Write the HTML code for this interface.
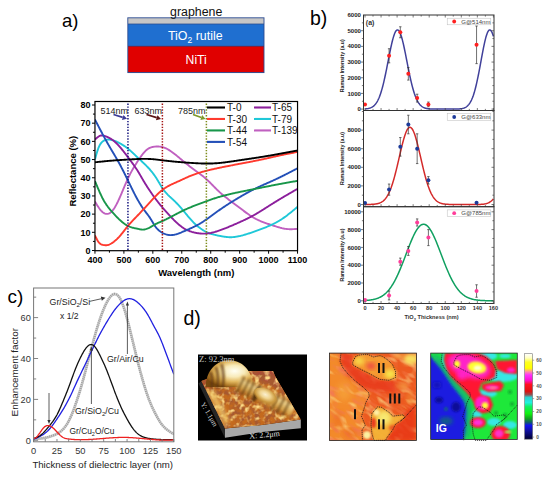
<!DOCTYPE html>
<html><head><meta charset="utf-8"><style>
html,body{margin:0;padding:0;background:#fff;width:550px;height:478px;overflow:hidden}
svg{display:block}
text{font-family:"Liberation Sans", sans-serif}
text.serif{font-family:"Liberation Serif",serif}
</style></head><body>
<svg width="550" height="478" viewBox="0 0 550 478" font-family='"Liberation Sans", sans-serif'>
<text x="62" y="27.3" font-size="18.5" fill="#000">a)</text>
<text x="310" y="25" font-size="19.5" fill="#000">b)</text>
<text x="7.5" y="303.4" font-size="19" fill="#000">c)</text>
<text x="183.5" y="325" font-size="19.5" fill="#000">d)</text>
<rect x="128" y="18" width="136" height="54.5" fill="#1f6fd0"/>
<rect x="128" y="18" width="136" height="6" fill="#c6c6c6"/>
<rect x="128" y="46.3" width="136" height="26.2" fill="#e00000"/>
<rect x="127.8" y="17.8" width="136.2" height="54.8" fill="none" stroke="#2a4a90" stroke-width="0.9"/>
<line x1="128" y1="24" x2="264" y2="24" stroke="#2b4f8f" stroke-width="0.8"/>
<line x1="128" y1="46.3" x2="264" y2="46.3" stroke="#5a2040" stroke-width="0.6"/>
<text x="170" y="16.1" font-size="12" textLength="52.3" lengthAdjust="spacingAndGlyphs" fill="#111">graphene</text>
<text x="168" y="39.9" font-size="12.4" fill="#fff">TiO<tspan font-size="8.5" dy="2.8">2</tspan><tspan dy="-2.8"> rutile</tspan></text>
<text x="185.6" y="64.2" font-size="12.2" fill="#fff">NiTi</text>
<defs><clipPath id="ca"><rect x="94.96" y="101.5" width="202.57999999999998" height="149.2"/></clipPath></defs>
<g clip-path="url(#ca)" fill="none" stroke-width="1.9" stroke-linejoin="round">
<polyline points="94.96,201.57 95.64,202.71 96.32,203.84 96.99,204.95 97.67,206.03 98.35,207.06 99.03,208.05 99.70,208.98 100.38,209.84 101.06,210.62 101.74,211.32 102.41,211.94 103.09,212.48 103.77,212.93 104.45,213.31 105.12,213.59 105.80,213.79 106.48,213.90 107.16,213.92 107.83,213.85 108.51,213.68 109.19,213.41 109.87,213.05 110.54,212.58 111.22,212.00 111.90,211.32 112.58,210.54 113.25,209.67 113.93,208.72 114.61,207.67 115.29,206.55 115.96,205.36 116.64,204.10 117.32,202.78 118.00,201.40 118.67,199.96 119.35,198.48 120.03,196.96 120.71,195.41 121.38,193.82 122.06,192.22 122.74,190.60 123.42,188.98 124.09,187.35 124.77,185.74 125.45,184.14 126.13,182.56 126.80,181.01 127.48,179.50 128.16,178.03 128.84,176.61 129.51,175.24 130.19,173.90 130.87,172.61 131.55,171.36 132.22,170.14 132.90,168.95 133.58,167.79 134.26,166.66 134.93,165.55 135.61,164.46 136.29,163.40 136.97,162.35 137.64,161.31 138.32,160.29 139.00,159.28 139.68,158.28 140.35,157.30 141.03,156.34 141.71,155.42 142.39,154.52 143.06,153.66 143.74,152.84 144.42,152.07 145.10,151.34 145.77,150.67 146.45,150.05 147.13,149.50 147.81,149.00 148.48,148.57 149.16,148.19 149.84,147.87 150.52,147.59 151.19,147.35 151.87,147.16 152.55,146.99 153.23,146.86 153.90,146.76 154.58,146.68 155.26,146.61 155.94,146.56 156.61,146.53 157.29,146.52 157.97,146.53 158.65,146.56 159.32,146.60 160.00,146.68 160.68,146.77 161.36,146.89 162.03,147.03 162.71,147.20 163.39,147.39 164.07,147.61 164.75,147.86 165.42,148.14 166.10,148.44 166.78,148.77 167.46,149.13 168.13,149.51 168.81,149.90 169.49,150.32 170.17,150.76 170.84,151.22 171.52,151.69 172.20,152.17 172.88,152.67 173.55,153.18 174.23,153.71 174.91,154.24 175.59,154.78 176.26,155.33 176.94,155.88 177.62,156.44 178.30,157.00 178.97,157.57 179.65,158.13 180.33,158.70 181.01,159.26 181.68,159.83 182.36,160.40 183.04,160.96 183.72,161.52 184.39,162.08 185.07,162.64 185.75,163.19 186.43,163.74 187.10,164.29 187.78,164.83 188.46,165.36 189.14,165.89 189.81,166.42 190.49,166.93 191.17,167.45 191.85,167.95 192.52,168.45 193.20,168.95 193.88,169.44 194.56,169.94 195.23,170.43 195.91,170.92 196.59,171.41 197.27,171.91 197.94,172.40 198.62,172.90 199.30,173.41 199.98,173.92 200.65,174.43 201.33,174.95 202.01,175.48 202.69,176.02 203.36,176.57 204.04,177.13 204.72,177.70 205.40,178.28 206.07,178.87 206.75,179.48 207.43,180.10 208.11,180.74 208.78,181.38 209.46,182.05 210.14,182.72 210.82,183.39 211.49,184.08 212.17,184.77 212.85,185.46 213.53,186.15 214.20,186.84 214.88,187.53 215.56,188.21 216.24,188.89 216.91,189.56 217.59,190.22 218.27,190.87 218.95,191.50 219.62,192.13 220.30,192.74 220.98,193.34 221.66,193.93 222.33,194.51 223.01,195.08 223.69,195.65 224.37,196.20 225.04,196.75 225.72,197.29 226.40,197.82 227.08,198.35 227.75,198.87 228.43,199.39 229.11,199.90 229.79,200.41 230.47,200.92 231.14,201.42 231.82,201.93 232.50,202.43 233.18,202.93 233.85,203.44 234.53,203.94 235.21,204.44 235.89,204.95 236.56,205.46 237.24,205.97 237.92,206.48 238.60,207.00 239.27,207.52 239.95,208.04 240.63,208.55 241.31,209.07 241.98,209.59 242.66,210.10 243.34,210.61 244.02,211.12 244.69,211.63 245.37,212.13 246.05,212.62 246.73,213.11 247.40,213.60 248.08,214.08 248.76,214.55 249.44,215.01 250.11,215.47 250.79,215.91 251.47,216.35 252.15,216.78 252.82,217.19 253.50,217.60 254.18,217.99 254.86,218.37 255.53,218.74 256.21,219.09 256.89,219.44 257.57,219.77 258.24,220.09 258.92,220.40 259.60,220.71 260.28,221.00 260.95,221.29 261.63,221.57 262.31,221.84 262.99,222.10 263.66,222.36 264.34,222.61 265.02,222.85 265.70,223.10 266.37,223.33 267.05,223.56 267.73,223.79 268.41,224.02 269.08,224.24 269.76,224.47 270.44,224.69 271.12,224.90 271.79,225.12 272.47,225.34 273.15,225.56 273.83,225.78 274.50,226.00 275.18,226.22 275.86,226.43 276.54,226.65 277.21,226.85 277.89,227.06 278.57,227.26 279.25,227.45 279.92,227.64 280.60,227.82 281.28,227.99 281.96,228.16 282.63,228.31 283.31,228.45 283.99,228.59 284.67,228.71 285.34,228.82 286.02,228.91 286.70,228.99 287.38,229.06 288.05,229.11 288.73,229.15 289.41,229.18 290.09,229.19 290.76,229.20 291.44,229.19 292.12,229.18 292.80,229.15 293.47,229.12 294.15,229.09 294.83,229.05 295.51,229.00 296.18,228.96 296.86,228.91 297.54,228.86" stroke="#c060c0"/>
<polyline points="94.96,159.56 95.64,157.03 96.32,154.56 96.99,152.23 97.67,150.09 98.35,148.22 99.03,146.61 99.70,145.24 100.38,144.09 101.06,143.13 101.74,142.33 102.41,141.67 103.09,141.13 103.77,140.68 104.45,140.32 105.12,140.04 105.80,139.83 106.48,139.69 107.16,139.60 107.83,139.56 108.51,139.56 109.19,139.59 109.87,139.65 110.54,139.74 111.22,139.87 111.90,140.02 112.58,140.19 113.25,140.39 113.93,140.62 114.61,140.86 115.29,141.13 115.96,141.41 116.64,141.71 117.32,142.03 118.00,142.36 118.67,142.70 119.35,143.05 120.03,143.42 120.71,143.79 121.38,144.18 122.06,144.57 122.74,144.99 123.42,145.41 124.09,145.85 124.77,146.30 125.45,146.77 126.13,147.25 126.80,147.76 127.48,148.28 128.16,148.81 128.84,149.37 129.51,149.94 130.19,150.53 130.87,151.13 131.55,151.74 132.22,152.37 132.90,153.00 133.58,153.63 134.26,154.28 134.93,154.92 135.61,155.57 136.29,156.22 136.97,156.87 137.64,157.51 138.32,158.15 139.00,158.78 139.68,159.41 140.35,160.04 141.03,160.67 141.71,161.30 142.39,161.93 143.06,162.57 143.74,163.21 144.42,163.86 145.10,164.51 145.77,165.18 146.45,165.86 147.13,166.55 147.81,167.26 148.48,167.99 149.16,168.73 149.84,169.50 150.52,170.28 151.19,171.09 151.87,171.92 152.55,172.78 153.23,173.67 153.90,174.58 154.58,175.53 155.26,176.50 155.94,177.51 156.61,178.56 157.29,179.64 157.97,180.76 158.65,181.90 159.32,183.06 160.00,184.22 160.68,185.37 161.36,186.49 162.03,187.57 162.71,188.60 163.39,189.56 164.07,190.48 164.75,191.34 165.42,192.16 166.10,192.93 166.78,193.67 167.46,194.38 168.13,195.07 168.81,195.72 169.49,196.37 170.17,196.99 170.84,197.61 171.52,198.23 172.20,198.84 172.88,199.46 173.55,200.09 174.23,200.74 174.91,201.40 175.59,202.07 176.26,202.76 176.94,203.47 177.62,204.18 178.30,204.91 178.97,205.66 179.65,206.41 180.33,207.17 181.01,207.95 181.68,208.73 182.36,209.52 183.04,210.32 183.72,211.12 184.39,211.94 185.07,212.75 185.75,213.57 186.43,214.39 187.10,215.20 187.78,216.02 188.46,216.82 189.14,217.62 189.81,218.41 190.49,219.19 191.17,219.96 191.85,220.71 192.52,221.44 193.20,222.15 193.88,222.84 194.56,223.51 195.23,224.15 195.91,224.78 196.59,225.38 197.27,225.97 197.94,226.53 198.62,227.07 199.30,227.60 199.98,228.10 200.65,228.59 201.33,229.06 202.01,229.51 202.69,229.94 203.36,230.35 204.04,230.75 204.72,231.13 205.40,231.49 206.07,231.83 206.75,232.16 207.43,232.47 208.11,232.76 208.78,233.03 209.46,233.29 210.14,233.53 210.82,233.76 211.49,233.97 212.17,234.17 212.85,234.36 213.53,234.54 214.20,234.70 214.88,234.86 215.56,235.02 216.24,235.17 216.91,235.31 217.59,235.45 218.27,235.59 218.95,235.73 219.62,235.87 220.30,236.00 220.98,236.13 221.66,236.26 222.33,236.38 223.01,236.50 223.69,236.61 224.37,236.72 225.04,236.81 225.72,236.90 226.40,236.98 227.08,237.05 227.75,237.11 228.43,237.16 229.11,237.20 229.79,237.22 230.47,237.23 231.14,237.22 231.82,237.20 232.50,237.16 233.18,237.11 233.85,237.05 234.53,236.98 235.21,236.89 235.89,236.79 236.56,236.68 237.24,236.56 237.92,236.43 238.60,236.29 239.27,236.14 239.95,235.99 240.63,235.82 241.31,235.65 241.98,235.48 242.66,235.29 243.34,235.11 244.02,234.91 244.69,234.72 245.37,234.52 246.05,234.31 246.73,234.11 247.40,233.90 248.08,233.69 248.76,233.48 249.44,233.26 250.11,233.04 250.79,232.82 251.47,232.60 252.15,232.37 252.82,232.14 253.50,231.91 254.18,231.67 254.86,231.44 255.53,231.20 256.21,230.96 256.89,230.71 257.57,230.46 258.24,230.21 258.92,229.96 259.60,229.71 260.28,229.45 260.95,229.19 261.63,228.93 262.31,228.67 262.99,228.40 263.66,228.14 264.34,227.86 265.02,227.59 265.70,227.32 266.37,227.04 267.05,226.75 267.73,226.47 268.41,226.18 269.08,225.88 269.76,225.58 270.44,225.28 271.12,224.97 271.79,224.65 272.47,224.33 273.15,224.00 273.83,223.67 274.50,223.32 275.18,222.97 275.86,222.62 276.54,222.25 277.21,221.88 277.89,221.50 278.57,221.11 279.25,220.71 279.92,220.30 280.60,219.88 281.28,219.45 281.96,219.01 282.63,218.55 283.31,218.09 283.99,217.62 284.67,217.14 285.34,216.65 286.02,216.15 286.70,215.65 287.38,215.13 288.05,214.61 288.73,214.09 289.41,213.55 290.09,213.01 290.76,212.47 291.44,211.92 292.12,211.37 292.80,210.81 293.47,210.25 294.15,209.69 294.83,209.12 295.51,208.56 296.18,207.99 296.86,207.42 297.54,206.85" stroke="#1fc8d8"/>
<polyline points="94.96,139.55 95.64,138.93 96.32,138.32 96.99,137.73 97.67,137.18 98.35,136.69 99.03,136.27 99.70,135.92 100.38,135.67 101.06,135.51 101.74,135.44 102.41,135.45 103.09,135.53 103.77,135.67 104.45,135.86 105.12,136.08 105.80,136.33 106.48,136.60 107.16,136.89 107.83,137.20 108.51,137.53 109.19,137.89 109.87,138.26 110.54,138.66 111.22,139.09 111.90,139.54 112.58,140.01 113.25,140.51 113.93,141.04 114.61,141.60 115.29,142.19 115.96,142.80 116.64,143.45 117.32,144.12 118.00,144.83 118.67,145.56 119.35,146.31 120.03,147.09 120.71,147.89 121.38,148.70 122.06,149.53 122.74,150.38 123.42,151.24 124.09,152.11 124.77,153.00 125.45,153.88 126.13,154.78 126.80,155.67 127.48,156.57 128.16,157.47 128.84,158.37 129.51,159.27 130.19,160.17 130.87,161.07 131.55,161.99 132.22,162.91 132.90,163.84 133.58,164.79 134.26,165.75 134.93,166.73 135.61,167.73 136.29,168.75 136.97,169.79 137.64,170.86 138.32,171.96 139.00,173.08 139.68,174.22 140.35,175.38 141.03,176.55 141.71,177.72 142.39,178.88 143.06,180.04 143.74,181.18 144.42,182.31 145.10,183.43 145.77,184.53 146.45,185.61 147.13,186.68 147.81,187.74 148.48,188.79 149.16,189.82 149.84,190.83 150.52,191.84 151.19,192.83 151.87,193.80 152.55,194.77 153.23,195.72 153.90,196.66 154.58,197.58 155.26,198.49 155.94,199.39 156.61,200.28 157.29,201.16 157.97,202.02 158.65,202.88 159.32,203.72 160.00,204.55 160.68,205.38 161.36,206.19 162.03,207.00 162.71,207.80 163.39,208.59 164.07,209.37 164.75,210.14 165.42,210.91 166.10,211.67 166.78,212.42 167.46,213.17 168.13,213.91 168.81,214.65 169.49,215.38 170.17,216.11 170.84,216.83 171.52,217.54 172.20,218.25 172.88,218.95 173.55,219.64 174.23,220.32 174.91,220.99 175.59,221.64 176.26,222.29 176.94,222.92 177.62,223.53 178.30,224.13 178.97,224.71 179.65,225.28 180.33,225.83 181.01,226.35 181.68,226.86 182.36,227.35 183.04,227.81 183.72,228.26 184.39,228.67 185.07,229.07 185.75,229.44 186.43,229.79 187.10,230.12 187.78,230.42 188.46,230.71 189.14,230.98 189.81,231.24 190.49,231.47 191.17,231.69 191.85,231.90 192.52,232.09 193.20,232.27 193.88,232.44 194.56,232.60 195.23,232.74 195.91,232.88 196.59,233.00 197.27,233.11 197.94,233.21 198.62,233.30 199.30,233.38 199.98,233.45 200.65,233.50 201.33,233.55 202.01,233.58 202.69,233.61 203.36,233.62 204.04,233.62 204.72,233.62 205.40,233.59 206.07,233.56 206.75,233.51 207.43,233.45 208.11,233.38 208.78,233.29 209.46,233.19 210.14,233.08 210.82,232.95 211.49,232.80 212.17,232.65 212.85,232.48 213.53,232.31 214.20,232.12 214.88,231.93 215.56,231.72 216.24,231.51 216.91,231.30 217.59,231.08 218.27,230.85 218.95,230.62 219.62,230.38 220.30,230.14 220.98,229.90 221.66,229.65 222.33,229.40 223.01,229.15 223.69,228.89 224.37,228.63 225.04,228.37 225.72,228.10 226.40,227.84 227.08,227.56 227.75,227.29 228.43,227.01 229.11,226.73 229.79,226.45 230.47,226.17 231.14,225.89 231.82,225.60 232.50,225.31 233.18,225.02 233.85,224.73 234.53,224.43 235.21,224.14 235.89,223.84 236.56,223.54 237.24,223.25 237.92,222.95 238.60,222.65 239.27,222.34 239.95,222.04 240.63,221.73 241.31,221.43 241.98,221.12 242.66,220.80 243.34,220.49 244.02,220.17 244.69,219.85 245.37,219.53 246.05,219.20 246.73,218.87 247.40,218.54 248.08,218.20 248.76,217.86 249.44,217.52 250.11,217.17 250.79,216.82 251.47,216.46 252.15,216.10 252.82,215.73 253.50,215.36 254.18,214.99 254.86,214.61 255.53,214.22 256.21,213.83 256.89,213.43 257.57,213.03 258.24,212.63 258.92,212.22 259.60,211.81 260.28,211.39 260.95,210.98 261.63,210.56 262.31,210.13 262.99,209.71 263.66,209.28 264.34,208.85 265.02,208.42 265.70,207.99 266.37,207.56 267.05,207.13 267.73,206.70 268.41,206.27 269.08,205.83 269.76,205.40 270.44,204.97 271.12,204.54 271.79,204.11 272.47,203.69 273.15,203.26 273.83,202.84 274.50,202.42 275.18,202.00 275.86,201.58 276.54,201.17 277.21,200.75 277.89,200.34 278.57,199.93 279.25,199.52 279.92,199.11 280.60,198.71 281.28,198.30 281.96,197.90 282.63,197.50 283.31,197.09 283.99,196.69 284.67,196.30 285.34,195.90 286.02,195.50 286.70,195.10 287.38,194.71 288.05,194.31 288.73,193.92 289.41,193.53 290.09,193.13 290.76,192.74 291.44,192.35 292.12,191.96 292.80,191.57 293.47,191.18 294.15,190.79 294.83,190.40 295.51,190.01 296.18,189.62 296.86,189.23 297.54,188.84" stroke="#8c1f9c"/>
<polyline points="94.96,119.55 95.64,120.86 96.32,122.17 96.99,123.48 97.67,124.78 98.35,126.09 99.03,127.39 99.70,128.69 100.38,129.98 101.06,131.27 101.74,132.55 102.41,133.82 103.09,135.09 103.77,136.35 104.45,137.60 105.12,138.84 105.80,140.07 106.48,141.29 107.16,142.50 107.83,143.69 108.51,144.88 109.19,146.05 109.87,147.21 110.54,148.36 111.22,149.51 111.90,150.65 112.58,151.79 113.25,152.93 113.93,154.08 114.61,155.22 115.29,156.37 115.96,157.53 116.64,158.70 117.32,159.89 118.00,161.08 118.67,162.30 119.35,163.53 120.03,164.78 120.71,166.05 121.38,167.34 122.06,168.64 122.74,169.96 123.42,171.29 124.09,172.64 124.77,173.99 125.45,175.36 126.13,176.73 126.80,178.12 127.48,179.51 128.16,180.90 128.84,182.30 129.51,183.70 130.19,185.10 130.87,186.50 131.55,187.88 132.22,189.26 132.90,190.63 133.58,191.99 134.26,193.33 134.93,194.65 135.61,195.95 136.29,197.23 136.97,198.49 137.64,199.71 138.32,200.90 139.00,202.07 139.68,203.20 140.35,204.30 141.03,205.38 141.71,206.42 142.39,207.44 143.06,208.43 143.74,209.40 144.42,210.34 145.10,211.27 145.77,212.16 146.45,213.05 147.13,213.92 147.81,214.80 148.48,215.71 149.16,216.64 149.84,217.62 150.52,218.66 151.19,219.76 151.87,220.91 152.55,222.07 153.23,223.23 153.90,224.35 154.58,225.41 155.26,226.39 155.94,227.29 156.61,228.11 157.29,228.87 157.97,229.56 158.65,230.18 159.32,230.76 160.00,231.28 160.68,231.77 161.36,232.21 162.03,232.62 162.71,233.00 163.39,233.34 164.07,233.66 164.75,233.94 165.42,234.19 166.10,234.41 166.78,234.60 167.46,234.76 168.13,234.89 168.81,234.99 169.49,235.05 170.17,235.09 170.84,235.09 171.52,235.07 172.20,235.02 172.88,234.95 173.55,234.85 174.23,234.73 174.91,234.58 175.59,234.42 176.26,234.24 176.94,234.04 177.62,233.82 178.30,233.58 178.97,233.34 179.65,233.08 180.33,232.81 181.01,232.54 181.68,232.25 182.36,231.97 183.04,231.68 183.72,231.38 184.39,231.09 185.07,230.80 185.75,230.51 186.43,230.22 187.10,229.92 187.78,229.63 188.46,229.33 189.14,229.04 189.81,228.74 190.49,228.43 191.17,228.13 191.85,227.82 192.52,227.50 193.20,227.18 193.88,226.85 194.56,226.52 195.23,226.18 195.91,225.84 196.59,225.49 197.27,225.13 197.94,224.76 198.62,224.38 199.30,224.00 199.98,223.60 200.65,223.20 201.33,222.78 202.01,222.36 202.69,221.93 203.36,221.49 204.04,221.04 204.72,220.58 205.40,220.12 206.07,219.65 206.75,219.18 207.43,218.70 208.11,218.22 208.78,217.74 209.46,217.25 210.14,216.76 210.82,216.26 211.49,215.77 212.17,215.27 212.85,214.77 213.53,214.28 214.20,213.78 214.88,213.28 215.56,212.79 216.24,212.29 216.91,211.80 217.59,211.32 218.27,210.83 218.95,210.35 219.62,209.88 220.30,209.40 220.98,208.94 221.66,208.47 222.33,208.01 223.01,207.55 223.69,207.10 224.37,206.65 225.04,206.20 225.72,205.75 226.40,205.31 227.08,204.87 227.75,204.44 228.43,204.00 229.11,203.57 229.79,203.14 230.47,202.72 231.14,202.29 231.82,201.87 232.50,201.45 233.18,201.04 233.85,200.62 234.53,200.21 235.21,199.80 235.89,199.38 236.56,198.98 237.24,198.57 237.92,198.16 238.60,197.76 239.27,197.36 239.95,196.96 240.63,196.56 241.31,196.16 241.98,195.77 242.66,195.37 243.34,194.98 244.02,194.60 244.69,194.21 245.37,193.83 246.05,193.45 246.73,193.07 247.40,192.70 248.08,192.33 248.76,191.96 249.44,191.60 250.11,191.24 250.79,190.88 251.47,190.52 252.15,190.17 252.82,189.83 253.50,189.48 254.18,189.14 254.86,188.81 255.53,188.48 256.21,188.15 256.89,187.83 257.57,187.50 258.24,187.19 258.92,186.87 259.60,186.56 260.28,186.25 260.95,185.94 261.63,185.63 262.31,185.33 262.99,185.02 263.66,184.72 264.34,184.42 265.02,184.12 265.70,183.82 266.37,183.52 267.05,183.22 267.73,182.92 268.41,182.62 269.08,182.32 269.76,182.02 270.44,181.72 271.12,181.42 271.79,181.11 272.47,180.81 273.15,180.50 273.83,180.19 274.50,179.88 275.18,179.56 275.86,179.25 276.54,178.93 277.21,178.61 277.89,178.28 278.57,177.96 279.25,177.63 279.92,177.30 280.60,176.97 281.28,176.63 281.96,176.30 282.63,175.96 283.31,175.63 283.99,175.29 284.67,174.94 285.34,174.60 286.02,174.26 286.70,173.91 287.38,173.57 288.05,173.22 288.73,172.87 289.41,172.52 290.09,172.17 290.76,171.82 291.44,171.47 292.12,171.12 292.80,170.77 293.47,170.41 294.15,170.06 294.83,169.71 295.51,169.35 296.18,169.00 296.86,168.64 297.54,168.29" stroke="#2450b8"/>
<polyline points="94.96,181.02 95.64,182.67 96.32,184.32 96.99,185.95 97.67,187.57 98.35,189.16 99.03,190.73 99.70,192.27 100.38,193.76 101.06,195.22 101.74,196.62 102.41,197.97 103.09,199.26 103.77,200.49 104.45,201.65 105.12,202.77 105.80,203.83 106.48,204.85 107.16,205.82 107.83,206.75 108.51,207.65 109.19,208.51 109.87,209.35 110.54,210.16 111.22,210.94 111.90,211.71 112.58,212.46 113.25,213.20 113.93,213.93 114.61,214.66 115.29,215.38 115.96,216.09 116.64,216.79 117.32,217.48 118.00,218.16 118.67,218.83 119.35,219.48 120.03,220.12 120.71,220.74 121.38,221.34 122.06,221.92 122.74,222.48 123.42,223.02 124.09,223.53 124.77,224.02 125.45,224.48 126.13,224.92 126.80,225.33 127.48,225.70 128.16,226.05 128.84,226.36 129.51,226.65 130.19,226.91 130.87,227.14 131.55,227.36 132.22,227.55 132.90,227.73 133.58,227.90 134.26,228.06 134.93,228.20 135.61,228.35 136.29,228.48 136.97,228.62 137.64,228.76 138.32,228.91 139.00,229.06 139.68,229.20 140.35,229.33 141.03,229.44 141.71,229.53 142.39,229.58 143.06,229.58 143.74,229.54 144.42,229.46 145.10,229.33 145.77,229.16 146.45,228.96 147.13,228.72 147.81,228.44 148.48,228.14 149.16,227.80 149.84,227.44 150.52,227.06 151.19,226.66 151.87,226.26 152.55,225.85 153.23,225.45 153.90,225.05 154.58,224.67 155.26,224.30 155.94,223.95 156.61,223.62 157.29,223.30 157.97,222.98 158.65,222.68 159.32,222.38 160.00,222.08 160.68,221.79 161.36,221.49 162.03,221.19 162.71,220.89 163.39,220.58 164.07,220.27 164.75,219.95 165.42,219.62 166.10,219.30 166.78,218.96 167.46,218.63 168.13,218.29 168.81,217.94 169.49,217.60 170.17,217.25 170.84,216.90 171.52,216.55 172.20,216.19 172.88,215.84 173.55,215.48 174.23,215.13 174.91,214.77 175.59,214.42 176.26,214.06 176.94,213.71 177.62,213.36 178.30,213.00 178.97,212.66 179.65,212.31 180.33,211.97 181.01,211.63 181.68,211.29 182.36,210.96 183.04,210.63 183.72,210.30 184.39,209.98 185.07,209.67 185.75,209.36 186.43,209.05 187.10,208.75 187.78,208.45 188.46,208.16 189.14,207.87 189.81,207.58 190.49,207.30 191.17,207.02 191.85,206.75 192.52,206.47 193.20,206.20 193.88,205.93 194.56,205.67 195.23,205.40 195.91,205.14 196.59,204.88 197.27,204.62 197.94,204.36 198.62,204.10 199.30,203.84 199.98,203.59 200.65,203.33 201.33,203.08 202.01,202.82 202.69,202.57 203.36,202.32 204.04,202.07 204.72,201.81 205.40,201.57 206.07,201.32 206.75,201.07 207.43,200.83 208.11,200.58 208.78,200.34 209.46,200.10 210.14,199.86 210.82,199.63 211.49,199.39 212.17,199.16 212.85,198.93 213.53,198.71 214.20,198.48 214.88,198.26 215.56,198.04 216.24,197.83 216.91,197.62 217.59,197.41 218.27,197.20 218.95,197.00 219.62,196.80 220.30,196.60 220.98,196.41 221.66,196.22 222.33,196.04 223.01,195.85 223.69,195.67 224.37,195.49 225.04,195.32 225.72,195.15 226.40,194.97 227.08,194.81 227.75,194.64 228.43,194.48 229.11,194.31 229.79,194.15 230.47,194.00 231.14,193.84 231.82,193.69 232.50,193.53 233.18,193.38 233.85,193.23 234.53,193.08 235.21,192.94 235.89,192.79 236.56,192.64 237.24,192.50 237.92,192.36 238.60,192.21 239.27,192.07 239.95,191.93 240.63,191.79 241.31,191.65 241.98,191.51 242.66,191.38 243.34,191.24 244.02,191.10 244.69,190.96 245.37,190.83 246.05,190.69 246.73,190.56 247.40,190.42 248.08,190.29 248.76,190.15 249.44,190.02 250.11,189.88 250.79,189.75 251.47,189.61 252.15,189.48 252.82,189.34 253.50,189.21 254.18,189.07 254.86,188.94 255.53,188.80 256.21,188.67 256.89,188.53 257.57,188.39 258.24,188.26 258.92,188.12 259.60,187.98 260.28,187.85 260.95,187.71 261.63,187.57 262.31,187.44 262.99,187.30 263.66,187.17 264.34,187.03 265.02,186.89 265.70,186.76 266.37,186.62 267.05,186.49 267.73,186.35 268.41,186.22 269.08,186.08 269.76,185.95 270.44,185.82 271.12,185.69 271.79,185.55 272.47,185.42 273.15,185.29 273.83,185.16 274.50,185.03 275.18,184.90 275.86,184.77 276.54,184.64 277.21,184.52 277.89,184.39 278.57,184.26 279.25,184.14 279.92,184.01 280.60,183.89 281.28,183.76 281.96,183.64 282.63,183.51 283.31,183.39 283.99,183.26 284.67,183.14 285.34,183.02 286.02,182.90 286.70,182.77 287.38,182.65 288.05,182.53 288.73,182.41 289.41,182.29 290.09,182.17 290.76,182.04 291.44,181.92 292.12,181.80 292.80,181.68 293.47,181.56 294.15,181.44 294.83,181.32 295.51,181.20 296.18,181.08 296.86,180.96 297.54,180.84" stroke="#18964a"/>
<polyline points="94.96,235.40 95.64,236.83 96.32,238.22 96.99,239.54 97.67,240.75 98.35,241.81 99.03,242.68 99.70,243.37 100.38,243.89 101.06,244.28 101.74,244.56 102.41,244.77 103.09,244.93 103.77,245.06 104.45,245.16 105.12,245.21 105.80,245.22 106.48,245.19 107.16,245.11 107.83,244.98 108.51,244.79 109.19,244.55 109.87,244.25 110.54,243.91 111.22,243.53 111.90,243.11 112.58,242.65 113.25,242.16 113.93,241.65 114.61,241.11 115.29,240.54 115.96,239.95 116.64,239.34 117.32,238.70 118.00,238.02 118.67,237.32 119.35,236.59 120.03,235.82 120.71,235.03 121.38,234.22 122.06,233.38 122.74,232.54 123.42,231.68 124.09,230.81 124.77,229.94 125.45,229.07 126.13,228.21 126.80,227.36 127.48,226.52 128.16,225.70 128.84,224.89 129.51,224.11 130.19,223.34 130.87,222.59 131.55,221.85 132.22,221.12 132.90,220.40 133.58,219.69 134.26,218.98 134.93,218.28 135.61,217.58 136.29,216.89 136.97,216.19 137.64,215.49 138.32,214.78 139.00,214.07 139.68,213.36 140.35,212.64 141.03,211.92 141.71,211.19 142.39,210.46 143.06,209.73 143.74,208.99 144.42,208.26 145.10,207.52 145.77,206.78 146.45,206.03 147.13,205.29 147.81,204.55 148.48,203.81 149.16,203.06 149.84,202.32 150.52,201.58 151.19,200.84 151.87,200.11 152.55,199.38 153.23,198.65 153.90,197.93 154.58,197.21 155.26,196.51 155.94,195.81 156.61,195.13 157.29,194.46 157.97,193.80 158.65,193.16 159.32,192.53 160.00,191.92 160.68,191.33 161.36,190.76 162.03,190.21 162.71,189.69 163.39,189.18 164.07,188.70 164.75,188.23 165.42,187.79 166.10,187.36 166.78,186.95 167.46,186.55 168.13,186.17 168.81,185.80 169.49,185.44 170.17,185.10 170.84,184.76 171.52,184.44 172.20,184.12 172.88,183.80 173.55,183.50 174.23,183.19 174.91,182.89 175.59,182.59 176.26,182.29 176.94,181.99 177.62,181.69 178.30,181.39 178.97,181.08 179.65,180.77 180.33,180.46 181.01,180.15 181.68,179.83 182.36,179.51 183.04,179.19 183.72,178.88 184.39,178.56 185.07,178.25 185.75,177.93 186.43,177.62 187.10,177.32 187.78,177.02 188.46,176.72 189.14,176.43 189.81,176.14 190.49,175.86 191.17,175.59 191.85,175.32 192.52,175.06 193.20,174.80 193.88,174.55 194.56,174.31 195.23,174.07 195.91,173.84 196.59,173.61 197.27,173.39 197.94,173.17 198.62,172.96 199.30,172.75 199.98,172.54 200.65,172.34 201.33,172.14 202.01,171.95 202.69,171.76 203.36,171.57 204.04,171.39 204.72,171.21 205.40,171.03 206.07,170.86 206.75,170.69 207.43,170.52 208.11,170.35 208.78,170.18 209.46,170.02 210.14,169.86 210.82,169.70 211.49,169.54 212.17,169.38 212.85,169.23 213.53,169.07 214.20,168.92 214.88,168.77 215.56,168.62 216.24,168.47 216.91,168.32 217.59,168.17 218.27,168.03 218.95,167.89 219.62,167.74 220.30,167.60 220.98,167.46 221.66,167.32 222.33,167.18 223.01,167.04 223.69,166.91 224.37,166.77 225.04,166.63 225.72,166.50 226.40,166.36 227.08,166.23 227.75,166.10 228.43,165.97 229.11,165.84 229.79,165.70 230.47,165.57 231.14,165.44 231.82,165.31 232.50,165.19 233.18,165.06 233.85,164.93 234.53,164.80 235.21,164.67 235.89,164.54 236.56,164.42 237.24,164.29 237.92,164.16 238.60,164.04 239.27,163.91 239.95,163.78 240.63,163.65 241.31,163.53 241.98,163.40 242.66,163.27 243.34,163.14 244.02,163.02 244.69,162.89 245.37,162.76 246.05,162.63 246.73,162.50 247.40,162.37 248.08,162.24 248.76,162.11 249.44,161.98 250.11,161.85 250.79,161.72 251.47,161.59 252.15,161.45 252.82,161.32 253.50,161.18 254.18,161.05 254.86,160.91 255.53,160.78 256.21,160.64 256.89,160.50 257.57,160.36 258.24,160.22 258.92,160.08 259.60,159.94 260.28,159.80 260.95,159.65 261.63,159.51 262.31,159.36 262.99,159.21 263.66,159.07 264.34,158.92 265.02,158.77 265.70,158.62 266.37,158.47 267.05,158.31 267.73,158.16 268.41,158.01 269.08,157.85 269.76,157.70 270.44,157.55 271.12,157.39 271.79,157.24 272.47,157.09 273.15,156.93 273.83,156.78 274.50,156.63 275.18,156.48 275.86,156.32 276.54,156.17 277.21,156.02 277.89,155.87 278.57,155.72 279.25,155.58 279.92,155.43 280.60,155.29 281.28,155.14 281.96,155.00 282.63,154.86 283.31,154.72 283.99,154.58 284.67,154.44 285.34,154.30 286.02,154.16 286.70,154.03 287.38,153.89 288.05,153.76 288.73,153.62 289.41,153.49 290.09,153.36 290.76,153.23 291.44,153.09 292.12,152.96 292.80,152.83 293.47,152.70 294.15,152.57 294.83,152.44 295.51,152.31 296.18,152.18 296.86,152.05 297.54,151.92" stroke="#ff3a2e"/>
<polyline points="94.96,162.29 95.64,162.22 96.32,162.14 96.99,162.07 97.67,162.00 98.35,161.92 99.03,161.85 99.70,161.78 100.38,161.71 101.06,161.64 101.74,161.57 102.41,161.50 103.09,161.43 103.77,161.36 104.45,161.30 105.12,161.23 105.80,161.16 106.48,161.10 107.16,161.04 107.83,160.97 108.51,160.91 109.19,160.85 109.87,160.80 110.54,160.74 111.22,160.68 111.90,160.63 112.58,160.58 113.25,160.52 113.93,160.47 114.61,160.42 115.29,160.37 115.96,160.32 116.64,160.28 117.32,160.23 118.00,160.18 118.67,160.14 119.35,160.09 120.03,160.05 120.71,160.01 121.38,159.96 122.06,159.92 122.74,159.88 123.42,159.84 124.09,159.80 124.77,159.75 125.45,159.71 126.13,159.67 126.80,159.63 127.48,159.59 128.16,159.55 128.84,159.51 129.51,159.46 130.19,159.42 130.87,159.38 131.55,159.34 132.22,159.30 132.90,159.26 133.58,159.23 134.26,159.19 134.93,159.15 135.61,159.12 136.29,159.09 136.97,159.06 137.64,159.03 138.32,159.00 139.00,158.98 139.68,158.96 140.35,158.94 141.03,158.92 141.71,158.90 142.39,158.89 143.06,158.88 143.74,158.88 144.42,158.88 145.10,158.88 145.77,158.88 146.45,158.89 147.13,158.91 147.81,158.92 148.48,158.95 149.16,158.97 149.84,159.00 150.52,159.04 151.19,159.08 151.87,159.12 152.55,159.17 153.23,159.23 153.90,159.29 154.58,159.35 155.26,159.42 155.94,159.50 156.61,159.57 157.29,159.65 157.97,159.73 158.65,159.82 159.32,159.90 160.00,159.99 160.68,160.07 161.36,160.16 162.03,160.24 162.71,160.33 163.39,160.41 164.07,160.49 164.75,160.57 165.42,160.65 166.10,160.73 166.78,160.81 167.46,160.88 168.13,160.96 168.81,161.03 169.49,161.10 170.17,161.17 170.84,161.24 171.52,161.31 172.20,161.38 172.88,161.45 173.55,161.51 174.23,161.58 174.91,161.64 175.59,161.71 176.26,161.77 176.94,161.83 177.62,161.89 178.30,161.95 178.97,162.01 179.65,162.06 180.33,162.12 181.01,162.17 181.68,162.23 182.36,162.28 183.04,162.34 183.72,162.39 184.39,162.44 185.07,162.49 185.75,162.54 186.43,162.59 187.10,162.64 187.78,162.69 188.46,162.74 189.14,162.78 189.81,162.83 190.49,162.87 191.17,162.92 191.85,162.96 192.52,163.01 193.20,163.05 193.88,163.09 194.56,163.13 195.23,163.17 195.91,163.21 196.59,163.24 197.27,163.28 197.94,163.31 198.62,163.34 199.30,163.37 199.98,163.40 200.65,163.42 201.33,163.45 202.01,163.47 202.69,163.49 203.36,163.50 204.04,163.52 204.72,163.53 205.40,163.54 206.07,163.54 206.75,163.55 207.43,163.55 208.11,163.54 208.78,163.54 209.46,163.53 210.14,163.52 210.82,163.50 211.49,163.48 212.17,163.46 212.85,163.43 213.53,163.40 214.20,163.36 214.88,163.32 215.56,163.28 216.24,163.24 216.91,163.19 217.59,163.13 218.27,163.08 218.95,163.02 219.62,162.95 220.30,162.89 220.98,162.82 221.66,162.75 222.33,162.67 223.01,162.60 223.69,162.52 224.37,162.44 225.04,162.35 225.72,162.27 226.40,162.18 227.08,162.09 227.75,162.00 228.43,161.91 229.11,161.81 229.79,161.72 230.47,161.62 231.14,161.52 231.82,161.42 232.50,161.33 233.18,161.23 233.85,161.12 234.53,161.02 235.21,160.92 235.89,160.82 236.56,160.72 237.24,160.62 237.92,160.51 238.60,160.41 239.27,160.31 239.95,160.21 240.63,160.11 241.31,160.01 241.98,159.91 242.66,159.81 243.34,159.71 244.02,159.60 244.69,159.50 245.37,159.40 246.05,159.30 246.73,159.20 247.40,159.10 248.08,159.00 248.76,158.90 249.44,158.80 250.11,158.70 250.79,158.60 251.47,158.50 252.15,158.39 252.82,158.29 253.50,158.19 254.18,158.09 254.86,157.98 255.53,157.88 256.21,157.78 256.89,157.67 257.57,157.57 258.24,157.46 258.92,157.36 259.60,157.25 260.28,157.14 260.95,157.04 261.63,156.93 262.31,156.82 262.99,156.71 263.66,156.60 264.34,156.49 265.02,156.38 265.70,156.27 266.37,156.15 267.05,156.04 267.73,155.93 268.41,155.81 269.08,155.70 269.76,155.58 270.44,155.47 271.12,155.35 271.79,155.23 272.47,155.12 273.15,155.00 273.83,154.88 274.50,154.76 275.18,154.64 275.86,154.52 276.54,154.40 277.21,154.28 277.89,154.15 278.57,154.03 279.25,153.91 279.92,153.79 280.60,153.66 281.28,153.54 281.96,153.41 282.63,153.29 283.31,153.16 283.99,153.04 284.67,152.91 285.34,152.78 286.02,152.66 286.70,152.53 287.38,152.40 288.05,152.27 288.73,152.15 289.41,152.02 290.09,151.89 290.76,151.76 291.44,151.63 292.12,151.50 292.80,151.37 293.47,151.24 294.15,151.11 294.83,150.98 295.51,150.86 296.18,150.73 296.86,150.60 297.54,150.47" stroke="#000000"/>
</g>
<line x1="127.95" y1="103.5" x2="127.95" y2="250.7" stroke="#16167e" stroke-width="1.5" stroke-dasharray="1.4 1.5"/>
<line x1="162.39" y1="103.5" x2="162.39" y2="250.7" stroke="#a41414" stroke-width="1.5" stroke-dasharray="1.4 1.5"/>
<line x1="206.38" y1="103.5" x2="206.38" y2="250.7" stroke="#7e8c1c" stroke-width="1.5" stroke-dasharray="1.4 1.5"/>
<rect x="94.96" y="101.5" width="202.57999999999998" height="149.2" fill="none" stroke="#000" stroke-width="1.2"/>
<line x1="94.96" y1="250.7" x2="94.96" y2="253.7" stroke="#000" stroke-width="1"/>
<line x1="109.43" y1="250.7" x2="109.43" y2="252.7" stroke="#000" stroke-width="1"/>
<line x1="123.90" y1="250.7" x2="123.90" y2="253.7" stroke="#000" stroke-width="1"/>
<line x1="138.37" y1="250.7" x2="138.37" y2="252.7" stroke="#000" stroke-width="1"/>
<line x1="152.84" y1="250.7" x2="152.84" y2="253.7" stroke="#000" stroke-width="1"/>
<line x1="167.31" y1="250.7" x2="167.31" y2="252.7" stroke="#000" stroke-width="1"/>
<line x1="181.78" y1="250.7" x2="181.78" y2="253.7" stroke="#000" stroke-width="1"/>
<line x1="196.25" y1="250.7" x2="196.25" y2="252.7" stroke="#000" stroke-width="1"/>
<line x1="210.72" y1="250.7" x2="210.72" y2="253.7" stroke="#000" stroke-width="1"/>
<line x1="225.19" y1="250.7" x2="225.19" y2="252.7" stroke="#000" stroke-width="1"/>
<line x1="239.66" y1="250.7" x2="239.66" y2="253.7" stroke="#000" stroke-width="1"/>
<line x1="254.13" y1="250.7" x2="254.13" y2="252.7" stroke="#000" stroke-width="1"/>
<line x1="268.60" y1="250.7" x2="268.60" y2="253.7" stroke="#000" stroke-width="1"/>
<line x1="283.07" y1="250.7" x2="283.07" y2="252.7" stroke="#000" stroke-width="1"/>
<line x1="297.54" y1="250.7" x2="297.54" y2="253.7" stroke="#000" stroke-width="1"/>
<line x1="91.96" y1="250.50" x2="94.96" y2="250.50" stroke="#000" stroke-width="1"/>
<line x1="92.96" y1="241.41" x2="94.96" y2="241.41" stroke="#000" stroke-width="1"/>
<line x1="91.96" y1="232.31" x2="94.96" y2="232.31" stroke="#000" stroke-width="1"/>
<line x1="92.96" y1="223.22" x2="94.96" y2="223.22" stroke="#000" stroke-width="1"/>
<line x1="91.96" y1="214.12" x2="94.96" y2="214.12" stroke="#000" stroke-width="1"/>
<line x1="92.96" y1="205.03" x2="94.96" y2="205.03" stroke="#000" stroke-width="1"/>
<line x1="91.96" y1="195.94" x2="94.96" y2="195.94" stroke="#000" stroke-width="1"/>
<line x1="92.96" y1="186.84" x2="94.96" y2="186.84" stroke="#000" stroke-width="1"/>
<line x1="91.96" y1="177.75" x2="94.96" y2="177.75" stroke="#000" stroke-width="1"/>
<line x1="92.96" y1="168.65" x2="94.96" y2="168.65" stroke="#000" stroke-width="1"/>
<line x1="91.96" y1="159.56" x2="94.96" y2="159.56" stroke="#000" stroke-width="1"/>
<line x1="92.96" y1="150.47" x2="94.96" y2="150.47" stroke="#000" stroke-width="1"/>
<line x1="91.96" y1="141.37" x2="94.96" y2="141.37" stroke="#000" stroke-width="1"/>
<line x1="92.96" y1="132.28" x2="94.96" y2="132.28" stroke="#000" stroke-width="1"/>
<line x1="91.96" y1="123.18" x2="94.96" y2="123.18" stroke="#000" stroke-width="1"/>
<line x1="92.96" y1="114.09" x2="94.96" y2="114.09" stroke="#000" stroke-width="1"/>
<line x1="91.96" y1="105.00" x2="94.96" y2="105.00" stroke="#000" stroke-width="1"/>
<text x="94.96" y="262.5" font-size="9" font-weight="bold" text-anchor="middle">400</text>
<text x="123.90" y="262.5" font-size="9" font-weight="bold" text-anchor="middle">500</text>
<text x="152.84" y="262.5" font-size="9" font-weight="bold" text-anchor="middle">600</text>
<text x="181.78" y="262.5" font-size="9" font-weight="bold" text-anchor="middle">700</text>
<text x="210.72" y="262.5" font-size="9" font-weight="bold" text-anchor="middle">800</text>
<text x="239.66" y="262.5" font-size="9" font-weight="bold" text-anchor="middle">900</text>
<text x="268.60" y="262.5" font-size="9" font-weight="bold" text-anchor="middle">1000</text>
<text x="297.54" y="262.5" font-size="9" font-weight="bold" text-anchor="middle">1100</text>
<text x="90.5" y="253.70" font-size="9" font-weight="bold" text-anchor="end">0</text>
<text x="90.5" y="235.51" font-size="9" font-weight="bold" text-anchor="end">10</text>
<text x="90.5" y="217.32" font-size="9" font-weight="bold" text-anchor="end">20</text>
<text x="90.5" y="199.14" font-size="9" font-weight="bold" text-anchor="end">30</text>
<text x="90.5" y="180.95" font-size="9" font-weight="bold" text-anchor="end">40</text>
<text x="90.5" y="162.76" font-size="9" font-weight="bold" text-anchor="end">50</text>
<text x="90.5" y="144.57" font-size="9" font-weight="bold" text-anchor="end">60</text>
<text x="90.5" y="126.38" font-size="9" font-weight="bold" text-anchor="end">70</text>
<text x="90.5" y="108.20" font-size="9" font-weight="bold" text-anchor="end">80</text>
<text x="196.3" y="276" font-size="9.5" font-weight="bold" text-anchor="middle">Wavelength (nm)</text>
<text transform="translate(75.5,171.2) rotate(-90)" font-size="9.5" font-weight="bold" text-anchor="middle">Reflectance (%)</text>
<text x="100.4" y="113.5" font-size="9" fill="#222">514nm</text>
<text x="134.4" y="113.5" font-size="9" fill="#222">633nm</text>
<text x="178" y="113.5" font-size="9" fill="#222">785nm</text>
<line x1="113.5" y1="114.5" x2="122.71" y2="117.43" stroke="#3b3b96" stroke-width="1.7"/>
<polygon points="127,118.8 121.92,119.91 123.50,114.96" fill="#3b3b96"/>
<line x1="146.5" y1="114.5" x2="156.70" y2="117.67" stroke="#5a1414" stroke-width="1.7"/>
<polygon points="161,119 155.93,120.15 157.47,115.18" fill="#5a1414"/>
<line x1="193" y1="114.5" x2="201.27" y2="117.48" stroke="#7d9a2a" stroke-width="1.7"/>
<polygon points="205.5,119 200.39,119.92 202.15,115.03" fill="#7d9a2a"/>
<line x1="207" y1="107.5" x2="225" y2="107.5" stroke="#000000" stroke-width="2.1"/>
<text x="227" y="111.1" font-size="10" fill="#111">T-0</text>
<line x1="207" y1="118.97" x2="225" y2="118.97" stroke="#ff3a2e" stroke-width="2.1"/>
<text x="227" y="122.57" font-size="10" fill="#111">T-30</text>
<line x1="207" y1="130.44" x2="225" y2="130.44" stroke="#18964a" stroke-width="2.1"/>
<text x="227" y="134.04" font-size="10" fill="#111">T-44</text>
<line x1="207" y1="141.91" x2="225" y2="141.91" stroke="#2450b8" stroke-width="2.1"/>
<text x="227" y="145.51" font-size="10" fill="#111">T-54</text>
<line x1="254" y1="107.5" x2="271" y2="107.5" stroke="#8c1f9c" stroke-width="2.1"/>
<text x="272" y="111.1" font-size="10" fill="#111">T-65</text>
<line x1="254" y1="118.97" x2="271" y2="118.97" stroke="#1fc8d8" stroke-width="2.1"/>
<text x="272" y="122.57" font-size="10" fill="#111">T-79</text>
<line x1="254" y1="130.44" x2="271" y2="130.44" stroke="#c060c0" stroke-width="2.1"/>
<text x="272" y="134.04" font-size="10" fill="#111">T-139</text>
<defs><clipPath id="cb0"><rect x="363.5" y="15" width="130.5" height="95.5"/></clipPath></defs>
<polyline clip-path="url(#cb0)" points="365.00,108.91 365.43,108.88 365.86,108.84 366.29,108.79 366.72,108.74 367.15,108.69 367.58,108.62 368.01,108.55 368.44,108.46 368.86,108.36 369.29,108.25 369.72,108.13 370.15,107.99 370.58,107.83 371.01,107.65 371.44,107.45 371.87,107.23 372.30,106.98 372.73,106.71 373.16,106.40 373.59,106.06 374.02,105.69 374.45,105.28 374.88,104.83 375.31,104.33 375.74,103.79 376.17,103.20 376.59,102.55 377.02,101.86 377.45,101.10 377.88,100.28 378.31,99.40 378.74,98.46 379.17,97.45 379.60,96.37 380.03,95.21 380.46,93.99 380.89,92.69 381.32,91.32 381.75,89.87 382.18,88.35 382.61,86.76 383.04,85.09 383.47,83.36 383.89,81.55 384.32,79.69 384.75,77.76 385.18,75.77 385.61,73.74 386.04,71.66 386.47,69.54 386.90,67.38 387.33,65.21 387.76,63.01 388.19,60.81 388.62,58.61 389.05,56.42 389.48,54.25 389.91,52.11 390.34,50.01 390.77,47.97 391.20,45.98 391.62,44.07 392.05,42.24 392.48,40.51 392.91,38.87 393.34,37.35 393.77,35.95 394.20,34.68 394.63,33.55 395.06,32.56 395.49,31.72 395.92,31.04 396.35,30.51 396.78,30.15 397.21,29.95 397.64,29.92 398.07,30.06 398.50,30.36 398.93,30.83 399.35,31.45 399.78,32.23 400.21,33.17 400.64,34.25 401.07,35.47 401.50,36.82 401.93,38.30 402.36,39.89 402.79,41.59 403.22,43.39 403.65,45.27 404.08,47.23 404.51,49.25 404.94,51.33 405.37,53.46 405.80,55.62 406.23,57.80 406.65,60.00 407.08,62.20 407.51,64.40 407.94,66.58 408.37,68.75 408.80,70.88 409.23,72.97 409.66,75.03 410.09,77.03 410.52,78.98 410.95,80.87 411.38,82.70 411.81,84.46 412.24,86.15 412.67,87.77 413.10,89.32 413.53,90.79 413.96,92.19 414.38,93.52 414.81,94.77 415.24,95.95 415.67,97.06 416.10,98.09 416.53,99.06 416.96,99.97 417.39,100.81 417.82,101.58 418.25,102.30 418.68,102.97 419.11,103.58 419.54,104.14 419.97,104.65 420.40,105.12 420.83,105.54 421.26,105.93 421.68,106.28 422.11,106.60 422.54,106.89 422.97,107.14 423.40,107.37 423.83,107.58 424.26,107.77 424.69,107.93 425.12,108.08 425.55,108.21 425.98,108.32 426.41,108.43 426.84,108.52 427.27,108.59 427.70,108.66 428.13,108.72 428.56,108.78 428.99,108.82 429.41,108.86 429.84,108.90 430.27,108.93 430.70,108.95 431.13,108.97 431.56,108.99 431.99,109.01 432.42,109.02 432.85,109.04 433.28,109.05 433.71,109.06 434.14,109.06 434.57,109.07 435.00,109.07 435.43,109.08 435.86,109.08 436.29,109.09 436.72,109.09 437.14,109.09 437.57,109.09 438.00,109.09 438.43,109.09 438.86,109.10 439.29,109.10 439.72,109.10 440.15,109.10 440.58,109.10 441.01,109.10 441.44,109.10 441.87,109.10 442.30,109.10 442.73,109.10 443.16,109.10 443.59,109.10 444.02,109.10 444.44,109.10 444.87,109.10 445.30,109.10 445.73,109.10 446.16,109.10 446.59,109.10 447.02,109.10 447.45,109.10 447.88,109.10 448.31,109.10 448.74,109.10 449.17,109.10 449.60,109.10 450.03,109.10 450.46,109.10 450.89,109.10 451.32,109.09 451.75,109.09 452.17,109.09 452.60,109.09 453.03,109.09 453.46,109.08 453.89,109.08 454.32,109.08 454.75,109.07 455.18,109.07 455.61,109.06 456.04,109.05 456.47,109.04 456.90,109.03 457.33,109.01 457.76,109.00 458.19,108.98 458.62,108.95 459.05,108.92 459.47,108.89 459.90,108.85 460.33,108.81 460.76,108.76 461.19,108.70 461.62,108.63 462.05,108.55 462.48,108.46 462.91,108.36 463.34,108.24 463.77,108.10 464.20,107.95 464.63,107.78 465.06,107.58 465.49,107.36 465.92,107.11 466.35,106.83 466.78,106.52 467.20,106.17 467.63,105.78 468.06,105.35 468.49,104.88 468.92,104.35 469.35,103.78 469.78,103.14 470.21,102.45 470.64,101.70 471.07,100.88 471.50,99.99 471.93,99.02 472.36,97.99 472.79,96.87 473.22,95.68 473.65,94.40 474.08,93.05 474.51,91.60 474.93,90.08 475.36,88.47 475.79,86.77 476.22,85.00 476.65,83.14 477.08,81.21 477.51,79.21 477.94,77.14 478.37,75.01 478.80,72.82 479.23,70.59 479.66,68.31 480.09,66.00 480.52,63.67 480.95,61.33 481.38,58.98 481.81,56.65 482.23,54.34 482.66,52.06 483.09,49.83 483.52,47.66 483.95,45.56 484.38,43.55 484.81,41.63 485.24,39.82 485.67,38.14 486.10,36.58 486.53,35.17 486.96,33.91 487.39,32.81 487.82,31.88 488.25,31.12 488.68,30.55 489.11,30.15 489.54,29.95 489.96,29.93 490.39,30.10 490.82,30.46 491.25,31.01 491.68,31.73 492.11,32.63 492.54,33.70 492.97,34.93 493.40,36.32" fill="none" stroke="#40409a" stroke-width="1.5"/>
<circle clip-path="url(#cb0)" cx="365.00" cy="104.40" r="2" fill="#ff2020"/>
<line x1="389.07" y1="62.84" x2="389.07" y2="48.73" stroke="#333" stroke-width="0.7"/>
<line x1="387.88" y1="62.84" x2="390.27" y2="62.84" stroke="#333" stroke-width="0.7"/>
<line x1="387.88" y1="48.73" x2="390.27" y2="48.73" stroke="#333" stroke-width="0.7"/>
<circle clip-path="url(#cb0)" cx="389.07" cy="55.79" r="2" fill="#ff2020"/>
<line x1="400.31" y1="37.76" x2="400.31" y2="26.78" stroke="#333" stroke-width="0.7"/>
<line x1="399.11" y1="37.76" x2="401.51" y2="37.76" stroke="#333" stroke-width="0.7"/>
<line x1="399.11" y1="26.78" x2="401.51" y2="26.78" stroke="#333" stroke-width="0.7"/>
<circle clip-path="url(#cb0)" cx="400.31" cy="32.27" r="2" fill="#ff2020"/>
<line x1="408.33" y1="80.09" x2="408.33" y2="67.55" stroke="#333" stroke-width="0.7"/>
<line x1="407.13" y1="80.09" x2="409.53" y2="80.09" stroke="#333" stroke-width="0.7"/>
<line x1="407.13" y1="67.55" x2="409.53" y2="67.55" stroke="#333" stroke-width="0.7"/>
<circle clip-path="url(#cb0)" cx="408.33" cy="73.82" r="2" fill="#ff2020"/>
<line x1="417.16" y1="102.04" x2="417.16" y2="94.20" stroke="#333" stroke-width="0.7"/>
<line x1="415.96" y1="102.04" x2="418.36" y2="102.04" stroke="#333" stroke-width="0.7"/>
<line x1="415.96" y1="94.20" x2="418.36" y2="94.20" stroke="#333" stroke-width="0.7"/>
<circle clip-path="url(#cb0)" cx="417.16" cy="98.12" r="2" fill="#ff2020"/>
<line x1="428.40" y1="106.75" x2="428.40" y2="102.04" stroke="#333" stroke-width="0.7"/>
<line x1="427.20" y1="106.75" x2="429.60" y2="106.75" stroke="#333" stroke-width="0.7"/>
<line x1="427.20" y1="102.04" x2="429.60" y2="102.04" stroke="#333" stroke-width="0.7"/>
<circle clip-path="url(#cb0)" cx="428.40" cy="104.40" r="2" fill="#ff2020"/>
<line x1="476.55" y1="63.63" x2="476.55" y2="26.00" stroke="#333" stroke-width="0.7"/>
<line x1="475.35" y1="63.63" x2="477.75" y2="63.63" stroke="#333" stroke-width="0.7"/>
<line x1="475.35" y1="26.00" x2="477.75" y2="26.00" stroke="#333" stroke-width="0.7"/>
<circle clip-path="url(#cb0)" cx="476.55" cy="44.81" r="2" fill="#ff2020"/>
<rect x="363.5" y="15" width="130.5" height="95.5" fill="none" stroke="#333" stroke-width="1"/>
<line x1="365.00" y1="110.5" x2="365.00" y2="108.0" stroke="#444" stroke-width="0.7"/>
<line x1="365.00" y1="15" x2="365.00" y2="17.5" stroke="#444" stroke-width="0.7"/>
<line x1="373.02" y1="110.5" x2="373.02" y2="108.9" stroke="#444" stroke-width="0.7"/>
<line x1="373.02" y1="15" x2="373.02" y2="16.6" stroke="#444" stroke-width="0.7"/>
<line x1="381.05" y1="110.5" x2="381.05" y2="108.0" stroke="#444" stroke-width="0.7"/>
<line x1="381.05" y1="15" x2="381.05" y2="17.5" stroke="#444" stroke-width="0.7"/>
<line x1="389.07" y1="110.5" x2="389.07" y2="108.9" stroke="#444" stroke-width="0.7"/>
<line x1="389.07" y1="15" x2="389.07" y2="16.6" stroke="#444" stroke-width="0.7"/>
<line x1="397.10" y1="110.5" x2="397.10" y2="108.0" stroke="#444" stroke-width="0.7"/>
<line x1="397.10" y1="15" x2="397.10" y2="17.5" stroke="#444" stroke-width="0.7"/>
<line x1="405.12" y1="110.5" x2="405.12" y2="108.9" stroke="#444" stroke-width="0.7"/>
<line x1="405.12" y1="15" x2="405.12" y2="16.6" stroke="#444" stroke-width="0.7"/>
<line x1="413.15" y1="110.5" x2="413.15" y2="108.0" stroke="#444" stroke-width="0.7"/>
<line x1="413.15" y1="15" x2="413.15" y2="17.5" stroke="#444" stroke-width="0.7"/>
<line x1="421.18" y1="110.5" x2="421.18" y2="108.9" stroke="#444" stroke-width="0.7"/>
<line x1="421.18" y1="15" x2="421.18" y2="16.6" stroke="#444" stroke-width="0.7"/>
<line x1="429.20" y1="110.5" x2="429.20" y2="108.0" stroke="#444" stroke-width="0.7"/>
<line x1="429.20" y1="15" x2="429.20" y2="17.5" stroke="#444" stroke-width="0.7"/>
<line x1="437.23" y1="110.5" x2="437.23" y2="108.9" stroke="#444" stroke-width="0.7"/>
<line x1="437.23" y1="15" x2="437.23" y2="16.6" stroke="#444" stroke-width="0.7"/>
<line x1="445.25" y1="110.5" x2="445.25" y2="108.0" stroke="#444" stroke-width="0.7"/>
<line x1="445.25" y1="15" x2="445.25" y2="17.5" stroke="#444" stroke-width="0.7"/>
<line x1="453.27" y1="110.5" x2="453.27" y2="108.9" stroke="#444" stroke-width="0.7"/>
<line x1="453.27" y1="15" x2="453.27" y2="16.6" stroke="#444" stroke-width="0.7"/>
<line x1="461.30" y1="110.5" x2="461.30" y2="108.0" stroke="#444" stroke-width="0.7"/>
<line x1="461.30" y1="15" x2="461.30" y2="17.5" stroke="#444" stroke-width="0.7"/>
<line x1="469.32" y1="110.5" x2="469.32" y2="108.9" stroke="#444" stroke-width="0.7"/>
<line x1="469.32" y1="15" x2="469.32" y2="16.6" stroke="#444" stroke-width="0.7"/>
<line x1="477.35" y1="110.5" x2="477.35" y2="108.0" stroke="#444" stroke-width="0.7"/>
<line x1="477.35" y1="15" x2="477.35" y2="17.5" stroke="#444" stroke-width="0.7"/>
<line x1="485.38" y1="110.5" x2="485.38" y2="108.9" stroke="#444" stroke-width="0.7"/>
<line x1="485.38" y1="15" x2="485.38" y2="16.6" stroke="#444" stroke-width="0.7"/>
<line x1="493.40" y1="110.5" x2="493.40" y2="108.0" stroke="#444" stroke-width="0.7"/>
<line x1="493.40" y1="15" x2="493.40" y2="17.5" stroke="#444" stroke-width="0.7"/>
<line x1="361.0" y1="109.10" x2="363.5" y2="109.10" stroke="#444" stroke-width="0.7"/>
<line x1="494" y1="109.10" x2="491.5" y2="109.10" stroke="#444" stroke-width="0.7"/>
<line x1="361.9" y1="101.26" x2="363.5" y2="101.26" stroke="#444" stroke-width="0.7"/>
<line x1="494" y1="101.26" x2="492.4" y2="101.26" stroke="#444" stroke-width="0.7"/>
<line x1="361.0" y1="93.42" x2="363.5" y2="93.42" stroke="#444" stroke-width="0.7"/>
<line x1="494" y1="93.42" x2="491.5" y2="93.42" stroke="#444" stroke-width="0.7"/>
<line x1="361.9" y1="85.58" x2="363.5" y2="85.58" stroke="#444" stroke-width="0.7"/>
<line x1="494" y1="85.58" x2="492.4" y2="85.58" stroke="#444" stroke-width="0.7"/>
<line x1="361.0" y1="77.74" x2="363.5" y2="77.74" stroke="#444" stroke-width="0.7"/>
<line x1="494" y1="77.74" x2="491.5" y2="77.74" stroke="#444" stroke-width="0.7"/>
<line x1="361.9" y1="69.90" x2="363.5" y2="69.90" stroke="#444" stroke-width="0.7"/>
<line x1="494" y1="69.90" x2="492.4" y2="69.90" stroke="#444" stroke-width="0.7"/>
<line x1="361.0" y1="62.06" x2="363.5" y2="62.06" stroke="#444" stroke-width="0.7"/>
<line x1="494" y1="62.06" x2="491.5" y2="62.06" stroke="#444" stroke-width="0.7"/>
<line x1="361.9" y1="54.22" x2="363.5" y2="54.22" stroke="#444" stroke-width="0.7"/>
<line x1="494" y1="54.22" x2="492.4" y2="54.22" stroke="#444" stroke-width="0.7"/>
<line x1="361.0" y1="46.38" x2="363.5" y2="46.38" stroke="#444" stroke-width="0.7"/>
<line x1="494" y1="46.38" x2="491.5" y2="46.38" stroke="#444" stroke-width="0.7"/>
<line x1="361.9" y1="38.54" x2="363.5" y2="38.54" stroke="#444" stroke-width="0.7"/>
<line x1="494" y1="38.54" x2="492.4" y2="38.54" stroke="#444" stroke-width="0.7"/>
<line x1="361.0" y1="30.70" x2="363.5" y2="30.70" stroke="#444" stroke-width="0.7"/>
<line x1="494" y1="30.70" x2="491.5" y2="30.70" stroke="#444" stroke-width="0.7"/>
<line x1="361.9" y1="22.86" x2="363.5" y2="22.86" stroke="#444" stroke-width="0.7"/>
<line x1="494" y1="22.86" x2="492.4" y2="22.86" stroke="#444" stroke-width="0.7"/>
<text x="360.9" y="111.20" font-size="6" font-weight="bold" text-anchor="end" fill="#222">0</text>
<text x="360.9" y="95.52" font-size="6" font-weight="bold" text-anchor="end" fill="#222">1000</text>
<text x="360.9" y="79.84" font-size="6" font-weight="bold" text-anchor="end" fill="#222">2000</text>
<text x="360.9" y="64.16" font-size="6" font-weight="bold" text-anchor="end" fill="#222">3000</text>
<text x="360.9" y="48.48" font-size="6" font-weight="bold" text-anchor="end" fill="#222">4000</text>
<text x="360.9" y="32.80" font-size="6" font-weight="bold" text-anchor="end" fill="#222">5000</text>
<text x="360.9" y="17.12" font-size="6" font-weight="bold" text-anchor="end" fill="#222">6000</text>
<text transform="translate(343.8,65.8) rotate(-90)" font-size="5.8" font-weight="bold" textLength="53" lengthAdjust="spacingAndGlyphs" text-anchor="middle" fill="#222">Raman Intensity (a.u)</text>
<rect x="447.2" y="18.2" width="43.6" height="6.6" fill="#fff" stroke="#bbb" stroke-width="0.5"/>
<circle cx="454.2" cy="21.5" r="1.9" fill="#ff2020"/>
<text x="461.3" y="23.6" font-size="6" fill="#444">G@514nm</text>
<defs><clipPath id="cb1"><rect x="363.5" y="110.5" width="130.5" height="96.19999999999999"/></clipPath></defs>
<polyline clip-path="url(#cb1)" points="365.00,204.49 365.43,204.48 365.86,204.48 366.29,204.48 366.72,204.48 367.15,204.47 367.58,204.47 368.01,204.46 368.44,204.45 368.86,204.45 369.29,204.44 369.72,204.43 370.15,204.41 370.58,204.40 371.01,204.39 371.44,204.37 371.87,204.35 372.30,204.33 372.73,204.30 373.16,204.27 373.59,204.24 374.02,204.20 374.45,204.16 374.88,204.11 375.31,204.06 375.74,204.00 376.17,203.93 376.59,203.85 377.02,203.77 377.45,203.68 377.88,203.57 378.31,203.46 378.74,203.33 379.17,203.18 379.60,203.03 380.03,202.85 380.46,202.66 380.89,202.45 381.32,202.22 381.75,201.97 382.18,201.70 382.61,201.40 383.04,201.07 383.47,200.71 383.89,200.33 384.32,199.91 384.75,199.46 385.18,198.97 385.61,198.45 386.04,197.88 386.47,197.28 386.90,196.63 387.33,195.94 387.76,195.20 388.19,194.41 388.62,193.58 389.05,192.69 389.48,191.75 389.91,190.76 390.34,189.72 390.77,188.62 391.20,187.47 391.62,186.26 392.05,185.00 392.48,183.69 392.91,182.32 393.34,180.90 393.77,179.43 394.20,177.90 394.63,176.33 395.06,174.72 395.49,173.06 395.92,171.36 396.35,169.63 396.78,167.86 397.21,166.07 397.64,164.25 398.07,162.41 398.50,160.56 398.93,158.69 399.35,156.83 399.78,154.97 400.21,153.12 400.64,151.28 401.07,149.46 401.50,147.67 401.93,145.92 402.36,144.21 402.79,142.55 403.22,140.94 403.65,139.39 404.08,137.92 404.51,136.51 404.94,135.19 405.37,133.95 405.80,132.81 406.23,131.76 406.65,130.81 407.08,129.97 407.51,129.24 407.94,128.62 408.37,128.12 408.80,127.74 409.23,127.48 409.66,127.34 410.09,127.32 410.52,127.42 410.95,127.65 411.38,127.99 411.81,128.46 412.24,129.04 412.67,129.74 413.10,130.55 413.53,131.46 413.96,132.48 414.38,133.60 414.81,134.81 415.24,136.11 415.67,137.49 416.10,138.94 416.53,140.47 416.96,142.06 417.39,143.71 417.82,145.40 418.25,147.14 418.68,148.92 419.11,150.73 419.54,152.56 419.97,154.41 420.40,156.27 420.83,158.14 421.26,160.00 421.68,161.85 422.11,163.70 422.54,165.52 422.97,167.33 423.40,169.10 423.83,170.85 424.26,172.55 424.69,174.22 425.12,175.85 425.55,177.44 425.98,178.97 426.41,180.46 426.84,181.90 427.27,183.28 427.70,184.61 428.13,185.89 428.56,187.11 428.99,188.28 429.41,189.40 429.84,190.46 430.27,191.46 430.70,192.42 431.13,193.32 431.56,194.17 431.99,194.97 432.42,195.72 432.85,196.43 433.28,197.09 433.71,197.71 434.14,198.28 434.57,198.82 435.00,199.32 435.43,199.78 435.86,200.21 436.29,200.60 436.72,200.97 437.14,201.30 437.57,201.61 438.00,201.89 438.43,202.15 438.86,202.39 439.29,202.60 439.72,202.80 440.15,202.98 440.58,203.14 441.01,203.29 441.44,203.42 441.87,203.54 442.30,203.65 442.73,203.74 443.16,203.83 443.59,203.91 444.02,203.98 444.44,204.04 444.87,204.09 445.30,204.14 445.73,204.19 446.16,204.23 446.59,204.26 447.02,204.29 447.45,204.32 447.88,204.34 448.31,204.36 448.74,204.38 449.17,204.40 449.60,204.41 450.03,204.42 450.46,204.43 450.89,204.44 451.32,204.45 451.75,204.46 452.17,204.46 452.60,204.47 453.03,204.47 453.46,204.48 453.89,204.48 454.32,204.48 454.75,204.49 455.18,204.49 455.61,204.49 456.04,204.49 456.47,204.49 456.90,204.49 457.33,204.50 457.76,204.50 458.19,204.50 458.62,204.50 459.05,204.50 459.47,204.50 459.90,204.50 460.33,204.50 460.76,204.50 461.19,204.50 461.62,204.50 462.05,204.50 462.48,204.50 462.91,204.50 463.34,204.50 463.77,204.50 464.20,204.50 464.63,204.50 465.06,204.50 465.49,204.50 465.92,204.50 466.35,204.50 466.78,204.50 467.20,204.50 467.63,204.50 468.06,204.50 468.49,204.50 468.92,204.50 469.35,204.50 469.78,204.50 470.21,204.50 470.64,204.50 471.07,204.50 471.50,204.50 471.93,204.50 472.36,204.50 472.79,204.50 473.22,204.50 473.65,204.49 474.08,204.49 474.51,204.49 474.93,204.49 475.36,204.49 475.79,204.48 476.22,204.48 476.65,204.48 477.08,204.47 477.51,204.47 477.94,204.46 478.37,204.45 478.80,204.44 479.23,204.43 479.66,204.42 480.09,204.40 480.52,204.38 480.95,204.36 481.38,204.34 481.81,204.31 482.23,204.27 482.66,204.24 483.09,204.19 483.52,204.14 483.95,204.09 484.38,204.02 484.81,203.95 485.24,203.86 485.67,203.77 486.10,203.66 486.53,203.55 486.96,203.41 487.39,203.27 487.82,203.10 488.25,202.92 488.68,202.72 489.11,202.50 489.54,202.26 489.96,201.99 490.39,201.70 490.82,201.39 491.25,201.04 491.68,200.67 492.11,200.27 492.54,199.84 492.97,199.38 493.40,198.89" fill="none" stroke="#d42a2a" stroke-width="1.5"/>
<circle clip-path="url(#cb1)" cx="365.00" cy="203.10" r="2" fill="#1c3a9a"/>
<line x1="389.07" y1="195.20" x2="389.07" y2="184.04" stroke="#333" stroke-width="0.7"/>
<line x1="387.88" y1="195.20" x2="390.27" y2="195.20" stroke="#333" stroke-width="0.7"/>
<line x1="387.88" y1="184.04" x2="390.27" y2="184.04" stroke="#333" stroke-width="0.7"/>
<circle clip-path="url(#cb1)" cx="389.07" cy="189.62" r="2" fill="#1c3a9a"/>
<line x1="400.31" y1="156.14" x2="400.31" y2="137.54" stroke="#333" stroke-width="0.7"/>
<line x1="399.11" y1="156.14" x2="401.51" y2="156.14" stroke="#333" stroke-width="0.7"/>
<line x1="399.11" y1="137.54" x2="401.51" y2="137.54" stroke="#333" stroke-width="0.7"/>
<circle clip-path="url(#cb1)" cx="400.31" cy="146.84" r="2" fill="#1c3a9a"/>
<line x1="408.33" y1="133.82" x2="408.33" y2="115.22" stroke="#333" stroke-width="0.7"/>
<line x1="407.13" y1="133.82" x2="409.53" y2="133.82" stroke="#333" stroke-width="0.7"/>
<line x1="407.13" y1="115.22" x2="409.53" y2="115.22" stroke="#333" stroke-width="0.7"/>
<circle clip-path="url(#cb1)" cx="408.33" cy="124.52" r="2" fill="#1c3a9a"/>
<line x1="417.16" y1="163.58" x2="417.16" y2="133.82" stroke="#333" stroke-width="0.7"/>
<line x1="415.96" y1="163.58" x2="418.36" y2="163.58" stroke="#333" stroke-width="0.7"/>
<line x1="415.96" y1="133.82" x2="418.36" y2="133.82" stroke="#333" stroke-width="0.7"/>
<circle clip-path="url(#cb1)" cx="417.16" cy="148.70" r="2" fill="#1c3a9a"/>
<line x1="428.40" y1="184.04" x2="428.40" y2="176.60" stroke="#333" stroke-width="0.7"/>
<line x1="427.20" y1="184.04" x2="429.60" y2="184.04" stroke="#333" stroke-width="0.7"/>
<line x1="427.20" y1="176.60" x2="429.60" y2="176.60" stroke="#333" stroke-width="0.7"/>
<circle clip-path="url(#cb1)" cx="428.40" cy="180.32" r="2" fill="#1c3a9a"/>
<circle clip-path="url(#cb1)" cx="476.55" cy="202.64" r="2" fill="#1c3a9a"/>
<rect x="363.5" y="110.5" width="130.5" height="96.19999999999999" fill="none" stroke="#333" stroke-width="1"/>
<line x1="365.00" y1="206.7" x2="365.00" y2="204.2" stroke="#444" stroke-width="0.7"/>
<line x1="373.02" y1="206.7" x2="373.02" y2="205.1" stroke="#444" stroke-width="0.7"/>
<line x1="381.05" y1="206.7" x2="381.05" y2="204.2" stroke="#444" stroke-width="0.7"/>
<line x1="389.07" y1="206.7" x2="389.07" y2="205.1" stroke="#444" stroke-width="0.7"/>
<line x1="397.10" y1="206.7" x2="397.10" y2="204.2" stroke="#444" stroke-width="0.7"/>
<line x1="405.12" y1="206.7" x2="405.12" y2="205.1" stroke="#444" stroke-width="0.7"/>
<line x1="413.15" y1="206.7" x2="413.15" y2="204.2" stroke="#444" stroke-width="0.7"/>
<line x1="421.18" y1="206.7" x2="421.18" y2="205.1" stroke="#444" stroke-width="0.7"/>
<line x1="429.20" y1="206.7" x2="429.20" y2="204.2" stroke="#444" stroke-width="0.7"/>
<line x1="437.23" y1="206.7" x2="437.23" y2="205.1" stroke="#444" stroke-width="0.7"/>
<line x1="445.25" y1="206.7" x2="445.25" y2="204.2" stroke="#444" stroke-width="0.7"/>
<line x1="453.27" y1="206.7" x2="453.27" y2="205.1" stroke="#444" stroke-width="0.7"/>
<line x1="461.30" y1="206.7" x2="461.30" y2="204.2" stroke="#444" stroke-width="0.7"/>
<line x1="469.32" y1="206.7" x2="469.32" y2="205.1" stroke="#444" stroke-width="0.7"/>
<line x1="477.35" y1="206.7" x2="477.35" y2="204.2" stroke="#444" stroke-width="0.7"/>
<line x1="485.38" y1="206.7" x2="485.38" y2="205.1" stroke="#444" stroke-width="0.7"/>
<line x1="493.40" y1="206.7" x2="493.40" y2="204.2" stroke="#444" stroke-width="0.7"/>
<line x1="361.0" y1="204.50" x2="363.5" y2="204.50" stroke="#444" stroke-width="0.7"/>
<line x1="494" y1="204.50" x2="491.5" y2="204.50" stroke="#444" stroke-width="0.7"/>
<line x1="361.9" y1="195.20" x2="363.5" y2="195.20" stroke="#444" stroke-width="0.7"/>
<line x1="494" y1="195.20" x2="492.4" y2="195.20" stroke="#444" stroke-width="0.7"/>
<line x1="361.0" y1="185.90" x2="363.5" y2="185.90" stroke="#444" stroke-width="0.7"/>
<line x1="494" y1="185.90" x2="491.5" y2="185.90" stroke="#444" stroke-width="0.7"/>
<line x1="361.9" y1="176.60" x2="363.5" y2="176.60" stroke="#444" stroke-width="0.7"/>
<line x1="494" y1="176.60" x2="492.4" y2="176.60" stroke="#444" stroke-width="0.7"/>
<line x1="361.0" y1="167.30" x2="363.5" y2="167.30" stroke="#444" stroke-width="0.7"/>
<line x1="494" y1="167.30" x2="491.5" y2="167.30" stroke="#444" stroke-width="0.7"/>
<line x1="361.9" y1="158.00" x2="363.5" y2="158.00" stroke="#444" stroke-width="0.7"/>
<line x1="494" y1="158.00" x2="492.4" y2="158.00" stroke="#444" stroke-width="0.7"/>
<line x1="361.0" y1="148.70" x2="363.5" y2="148.70" stroke="#444" stroke-width="0.7"/>
<line x1="494" y1="148.70" x2="491.5" y2="148.70" stroke="#444" stroke-width="0.7"/>
<line x1="361.9" y1="139.40" x2="363.5" y2="139.40" stroke="#444" stroke-width="0.7"/>
<line x1="494" y1="139.40" x2="492.4" y2="139.40" stroke="#444" stroke-width="0.7"/>
<line x1="361.0" y1="130.10" x2="363.5" y2="130.10" stroke="#444" stroke-width="0.7"/>
<line x1="494" y1="130.10" x2="491.5" y2="130.10" stroke="#444" stroke-width="0.7"/>
<line x1="361.9" y1="120.80" x2="363.5" y2="120.80" stroke="#444" stroke-width="0.7"/>
<line x1="494" y1="120.80" x2="492.4" y2="120.80" stroke="#444" stroke-width="0.7"/>
<line x1="361.9" y1="111.50" x2="363.5" y2="111.50" stroke="#444" stroke-width="0.7"/>
<line x1="494" y1="111.50" x2="492.4" y2="111.50" stroke="#444" stroke-width="0.7"/>
<text x="360.9" y="206.60" font-size="6" font-weight="bold" text-anchor="end" fill="#222">0</text>
<text x="360.9" y="188.00" font-size="6" font-weight="bold" text-anchor="end" fill="#222">2000</text>
<text x="360.9" y="169.40" font-size="6" font-weight="bold" text-anchor="end" fill="#222">4000</text>
<text x="360.9" y="150.80" font-size="6" font-weight="bold" text-anchor="end" fill="#222">6000</text>
<text x="360.9" y="132.20" font-size="6" font-weight="bold" text-anchor="end" fill="#222">8000</text>
<text transform="translate(343.8,158.6) rotate(-90)" font-size="5.8" font-weight="bold" textLength="53" lengthAdjust="spacingAndGlyphs" text-anchor="middle" fill="#222">Raman Intensity (a.u)</text>
<rect x="447.2" y="113.7" width="43.6" height="6.6" fill="#fff" stroke="#bbb" stroke-width="0.5"/>
<circle cx="454.2" cy="117.0" r="1.9" fill="#1c3a9a"/>
<text x="461.3" y="119.1" font-size="6" fill="#444">G@633nm</text>
<defs><clipPath id="cb2"><rect x="363.5" y="206.7" width="130.5" height="96.80000000000001"/></clipPath></defs>
<polyline clip-path="url(#cb2)" points="365.00,300.50 365.43,300.48 365.86,300.45 366.29,300.42 366.72,300.39 367.15,300.35 367.58,300.32 368.01,300.28 368.44,300.24 368.86,300.19 369.29,300.15 369.72,300.09 370.15,300.04 370.58,299.98 371.01,299.92 371.44,299.85 371.87,299.78 372.30,299.71 372.73,299.63 373.16,299.54 373.59,299.45 374.02,299.35 374.45,299.25 374.88,299.14 375.31,299.03 375.74,298.91 376.17,298.78 376.59,298.64 377.02,298.49 377.45,298.34 377.88,298.18 378.31,298.01 378.74,297.83 379.17,297.64 379.60,297.44 380.03,297.23 380.46,297.01 380.89,296.77 381.32,296.53 381.75,296.27 382.18,296.00 382.61,295.72 383.04,295.43 383.47,295.12 383.89,294.79 384.32,294.46 384.75,294.10 385.18,293.73 385.61,293.35 386.04,292.95 386.47,292.53 386.90,292.10 387.33,291.64 387.76,291.18 388.19,290.69 388.62,290.18 389.05,289.66 389.48,289.11 389.91,288.55 390.34,287.97 390.77,287.37 391.20,286.75 391.62,286.10 392.05,285.44 392.48,284.76 392.91,284.06 393.34,283.33 393.77,282.59 394.20,281.83 394.63,281.04 395.06,280.24 395.49,279.42 395.92,278.57 396.35,277.71 396.78,276.83 397.21,275.93 397.64,275.01 398.07,274.07 398.50,273.11 398.93,272.14 399.35,271.15 399.78,270.15 400.21,269.13 400.64,268.09 401.07,267.05 401.50,265.99 401.93,264.91 402.36,263.83 402.79,262.74 403.22,261.63 403.65,260.52 404.08,259.41 404.51,258.28 404.94,257.16 405.37,256.02 405.80,254.89 406.23,253.76 406.65,252.63 407.08,251.50 407.51,250.37 407.94,249.25 408.37,248.13 408.80,247.02 409.23,245.93 409.66,244.84 410.09,243.76 410.52,242.70 410.95,241.66 411.38,240.63 411.81,239.62 412.24,238.63 412.67,237.66 413.10,236.72 413.53,235.80 413.96,234.91 414.38,234.04 414.81,233.20 415.24,232.39 415.67,231.62 416.10,230.88 416.53,230.17 416.96,229.49 417.39,228.86 417.82,228.26 418.25,227.70 418.68,227.18 419.11,226.70 419.54,226.26 419.97,225.86 420.40,225.50 420.83,225.19 421.26,224.93 421.68,224.70 422.11,224.53 422.54,224.39 422.97,224.31 423.40,224.26 423.83,224.27 424.26,224.32 424.69,224.41 425.12,224.55 425.55,224.74 425.98,224.97 426.41,225.24 426.84,225.56 427.27,225.92 427.70,226.33 428.13,226.77 428.56,227.26 428.99,227.79 429.41,228.35 429.84,228.96 430.27,229.60 430.70,230.28 431.13,230.99 431.56,231.74 431.99,232.52 432.42,233.34 432.85,234.18 433.28,235.05 433.71,235.95 434.14,236.87 434.57,237.82 435.00,238.79 435.43,239.78 435.86,240.80 436.29,241.83 436.72,242.88 437.14,243.94 437.57,245.01 438.00,246.10 438.43,247.20 438.86,248.31 439.29,249.43 439.72,250.55 440.15,251.68 440.58,252.81 441.01,253.94 441.44,255.08 441.87,256.21 442.30,257.34 442.73,258.47 443.16,259.59 443.59,260.70 444.02,261.81 444.44,262.91 444.87,264.01 445.30,265.09 445.73,266.16 446.16,267.22 446.59,268.26 447.02,269.30 447.45,270.31 447.88,271.32 448.31,272.30 448.74,273.27 449.17,274.22 449.60,275.16 450.03,276.07 450.46,276.97 450.89,277.85 451.32,278.71 451.75,279.55 452.17,280.37 452.60,281.17 453.03,281.95 453.46,282.71 453.89,283.45 454.32,284.17 454.75,284.87 455.18,285.55 455.61,286.21 456.04,286.85 456.47,287.47 456.90,288.06 457.33,288.64 457.76,289.20 458.19,289.74 458.62,290.27 459.05,290.77 459.47,291.25 459.90,291.72 460.33,292.17 460.76,292.60 461.19,293.01 461.62,293.41 462.05,293.79 462.48,294.16 462.91,294.51 463.34,294.85 463.77,295.17 464.20,295.48 464.63,295.77 465.06,296.05 465.49,296.32 465.92,296.57 466.35,296.81 466.78,297.04 467.20,297.26 467.63,297.47 468.06,297.67 468.49,297.86 468.92,298.04 469.35,298.21 469.78,298.37 470.21,298.52 470.64,298.66 471.07,298.80 471.50,298.93 471.93,299.05 472.36,299.16 472.79,299.27 473.22,299.37 473.65,299.47 474.08,299.56 474.51,299.64 474.93,299.72 475.36,299.79 475.79,299.86 476.22,299.93 476.65,299.99 477.08,300.05 477.51,300.10 477.94,300.15 478.37,300.20 478.80,300.24 479.23,300.29 479.66,300.32 480.09,300.36 480.52,300.39 480.95,300.42 481.38,300.45 481.81,300.48 482.23,300.50 482.66,300.53 483.09,300.55 483.52,300.57 483.95,300.59 484.38,300.61 484.81,300.62 485.24,300.64 485.67,300.65 486.10,300.66 486.53,300.67 486.96,300.68 487.39,300.69 487.82,300.70 488.25,300.71 488.68,300.72 489.11,300.73 489.54,300.73 489.96,300.74 490.39,300.74 490.82,300.75 491.25,300.75 491.68,300.76 492.11,300.76 492.54,300.76 492.97,300.77 493.40,300.77" fill="none" stroke="#10a060" stroke-width="1.5"/>
<circle clip-path="url(#cb2)" cx="365.00" cy="299.91" r="2" fill="#ff3d9a"/>
<line x1="389.07" y1="299.91" x2="389.07" y2="291.01" stroke="#333" stroke-width="0.7"/>
<line x1="387.88" y1="299.91" x2="390.27" y2="299.91" stroke="#333" stroke-width="0.7"/>
<line x1="387.88" y1="291.01" x2="390.27" y2="291.01" stroke="#333" stroke-width="0.7"/>
<circle clip-path="url(#cb2)" cx="389.07" cy="295.46" r="2" fill="#ff3d9a"/>
<line x1="400.31" y1="265.20" x2="400.31" y2="258.08" stroke="#333" stroke-width="0.7"/>
<line x1="399.11" y1="265.20" x2="401.51" y2="265.20" stroke="#333" stroke-width="0.7"/>
<line x1="399.11" y1="258.08" x2="401.51" y2="258.08" stroke="#333" stroke-width="0.7"/>
<circle clip-path="url(#cb2)" cx="400.31" cy="261.64" r="2" fill="#ff3d9a"/>
<line x1="408.33" y1="255.41" x2="408.33" y2="246.51" stroke="#333" stroke-width="0.7"/>
<line x1="407.13" y1="255.41" x2="409.53" y2="255.41" stroke="#333" stroke-width="0.7"/>
<line x1="407.13" y1="246.51" x2="409.53" y2="246.51" stroke="#333" stroke-width="0.7"/>
<circle clip-path="url(#cb2)" cx="408.33" cy="250.96" r="2" fill="#ff3d9a"/>
<line x1="417.16" y1="226.04" x2="417.16" y2="218.92" stroke="#333" stroke-width="0.7"/>
<line x1="415.96" y1="226.04" x2="418.36" y2="226.04" stroke="#333" stroke-width="0.7"/>
<line x1="415.96" y1="218.92" x2="418.36" y2="218.92" stroke="#333" stroke-width="0.7"/>
<circle clip-path="url(#cb2)" cx="417.16" cy="222.48" r="2" fill="#ff3d9a"/>
<line x1="428.40" y1="245.62" x2="428.40" y2="229.60" stroke="#333" stroke-width="0.7"/>
<line x1="427.20" y1="245.62" x2="429.60" y2="245.62" stroke="#333" stroke-width="0.7"/>
<line x1="427.20" y1="229.60" x2="429.60" y2="229.60" stroke="#333" stroke-width="0.7"/>
<circle clip-path="url(#cb2)" cx="428.40" cy="237.61" r="2" fill="#ff3d9a"/>
<line x1="476.55" y1="297.24" x2="476.55" y2="284.78" stroke="#333" stroke-width="0.7"/>
<line x1="475.35" y1="297.24" x2="477.75" y2="297.24" stroke="#333" stroke-width="0.7"/>
<line x1="475.35" y1="284.78" x2="477.75" y2="284.78" stroke="#333" stroke-width="0.7"/>
<circle clip-path="url(#cb2)" cx="476.55" cy="291.01" r="2" fill="#ff3d9a"/>
<rect x="363.5" y="206.7" width="130.5" height="96.80000000000001" fill="none" stroke="#333" stroke-width="1"/>
<line x1="365.00" y1="303.5" x2="365.00" y2="301.0" stroke="#444" stroke-width="0.7"/>
<line x1="373.02" y1="303.5" x2="373.02" y2="301.9" stroke="#444" stroke-width="0.7"/>
<line x1="381.05" y1="303.5" x2="381.05" y2="301.0" stroke="#444" stroke-width="0.7"/>
<line x1="389.07" y1="303.5" x2="389.07" y2="301.9" stroke="#444" stroke-width="0.7"/>
<line x1="397.10" y1="303.5" x2="397.10" y2="301.0" stroke="#444" stroke-width="0.7"/>
<line x1="405.12" y1="303.5" x2="405.12" y2="301.9" stroke="#444" stroke-width="0.7"/>
<line x1="413.15" y1="303.5" x2="413.15" y2="301.0" stroke="#444" stroke-width="0.7"/>
<line x1="421.18" y1="303.5" x2="421.18" y2="301.9" stroke="#444" stroke-width="0.7"/>
<line x1="429.20" y1="303.5" x2="429.20" y2="301.0" stroke="#444" stroke-width="0.7"/>
<line x1="437.23" y1="303.5" x2="437.23" y2="301.9" stroke="#444" stroke-width="0.7"/>
<line x1="445.25" y1="303.5" x2="445.25" y2="301.0" stroke="#444" stroke-width="0.7"/>
<line x1="453.27" y1="303.5" x2="453.27" y2="301.9" stroke="#444" stroke-width="0.7"/>
<line x1="461.30" y1="303.5" x2="461.30" y2="301.0" stroke="#444" stroke-width="0.7"/>
<line x1="469.32" y1="303.5" x2="469.32" y2="301.9" stroke="#444" stroke-width="0.7"/>
<line x1="477.35" y1="303.5" x2="477.35" y2="301.0" stroke="#444" stroke-width="0.7"/>
<line x1="485.38" y1="303.5" x2="485.38" y2="301.9" stroke="#444" stroke-width="0.7"/>
<line x1="493.40" y1="303.5" x2="493.40" y2="301.0" stroke="#444" stroke-width="0.7"/>
<line x1="361.0" y1="300.80" x2="363.5" y2="300.80" stroke="#444" stroke-width="0.7"/>
<line x1="494" y1="300.80" x2="491.5" y2="300.80" stroke="#444" stroke-width="0.7"/>
<line x1="361.9" y1="291.90" x2="363.5" y2="291.90" stroke="#444" stroke-width="0.7"/>
<line x1="494" y1="291.90" x2="492.4" y2="291.90" stroke="#444" stroke-width="0.7"/>
<line x1="361.0" y1="283.00" x2="363.5" y2="283.00" stroke="#444" stroke-width="0.7"/>
<line x1="494" y1="283.00" x2="491.5" y2="283.00" stroke="#444" stroke-width="0.7"/>
<line x1="361.9" y1="274.10" x2="363.5" y2="274.10" stroke="#444" stroke-width="0.7"/>
<line x1="494" y1="274.10" x2="492.4" y2="274.10" stroke="#444" stroke-width="0.7"/>
<line x1="361.0" y1="265.20" x2="363.5" y2="265.20" stroke="#444" stroke-width="0.7"/>
<line x1="494" y1="265.20" x2="491.5" y2="265.20" stroke="#444" stroke-width="0.7"/>
<line x1="361.9" y1="256.30" x2="363.5" y2="256.30" stroke="#444" stroke-width="0.7"/>
<line x1="494" y1="256.30" x2="492.4" y2="256.30" stroke="#444" stroke-width="0.7"/>
<line x1="361.0" y1="247.40" x2="363.5" y2="247.40" stroke="#444" stroke-width="0.7"/>
<line x1="494" y1="247.40" x2="491.5" y2="247.40" stroke="#444" stroke-width="0.7"/>
<line x1="361.9" y1="238.50" x2="363.5" y2="238.50" stroke="#444" stroke-width="0.7"/>
<line x1="494" y1="238.50" x2="492.4" y2="238.50" stroke="#444" stroke-width="0.7"/>
<line x1="361.0" y1="229.60" x2="363.5" y2="229.60" stroke="#444" stroke-width="0.7"/>
<line x1="494" y1="229.60" x2="491.5" y2="229.60" stroke="#444" stroke-width="0.7"/>
<line x1="361.9" y1="220.70" x2="363.5" y2="220.70" stroke="#444" stroke-width="0.7"/>
<line x1="494" y1="220.70" x2="492.4" y2="220.70" stroke="#444" stroke-width="0.7"/>
<line x1="361.0" y1="211.80" x2="363.5" y2="211.80" stroke="#444" stroke-width="0.7"/>
<line x1="494" y1="211.80" x2="491.5" y2="211.80" stroke="#444" stroke-width="0.7"/>
<text x="360.9" y="302.90" font-size="6" font-weight="bold" text-anchor="end" fill="#222">0</text>
<text x="360.9" y="285.10" font-size="6" font-weight="bold" text-anchor="end" fill="#222">2000</text>
<text x="360.9" y="267.30" font-size="6" font-weight="bold" text-anchor="end" fill="#222">4000</text>
<text x="360.9" y="249.50" font-size="6" font-weight="bold" text-anchor="end" fill="#222">6000</text>
<text x="360.9" y="231.70" font-size="6" font-weight="bold" text-anchor="end" fill="#222">8000</text>
<text x="360.9" y="213.90" font-size="6" font-weight="bold" text-anchor="end" fill="#222">10000</text>
<text transform="translate(343.8,255.1) rotate(-90)" font-size="5.8" font-weight="bold" textLength="53" lengthAdjust="spacingAndGlyphs" text-anchor="middle" fill="#222">Raman Intensity (a.u)</text>
<rect x="447.2" y="209.9" width="43.6" height="6.6" fill="#fff" stroke="#bbb" stroke-width="0.5"/>
<circle cx="454.2" cy="213.2" r="1.9" fill="#ff3d9a"/>
<text x="461.3" y="215.3" font-size="6" fill="#444">G@785nm</text>
<text x="365.8" y="25" font-size="7" font-weight="bold" fill="#333">(a)</text>
<text x="365.00" y="309.5" font-size="5.6" font-weight="bold" text-anchor="middle" fill="#333">0</text>
<text x="381.05" y="309.5" font-size="5.6" font-weight="bold" text-anchor="middle" fill="#333">20</text>
<text x="397.10" y="309.5" font-size="5.6" font-weight="bold" text-anchor="middle" fill="#333">40</text>
<text x="413.15" y="309.5" font-size="5.6" font-weight="bold" text-anchor="middle" fill="#333">60</text>
<text x="429.20" y="309.5" font-size="5.6" font-weight="bold" text-anchor="middle" fill="#333">80</text>
<text x="445.25" y="309.5" font-size="5.6" font-weight="bold" text-anchor="middle" fill="#333">100</text>
<text x="461.30" y="309.5" font-size="5.6" font-weight="bold" text-anchor="middle" fill="#333">120</text>
<text x="477.35" y="309.5" font-size="5.6" font-weight="bold" text-anchor="middle" fill="#333">140</text>
<text x="493.40" y="309.5" font-size="5.6" font-weight="bold" text-anchor="middle" fill="#333">160</text>
<text x="431.5" y="319" font-size="5.6" font-weight="bold" text-anchor="middle" fill="#333">TiO<tspan font-size="4" dy="1.5">2</tspan><tspan dy="-1.5"> Thickness (nm)</tspan></text>
<defs><clipPath id="cc"><rect x="33.6" y="288" width="140.20000000000002" height="153.8"/></clipPath></defs>
<g clip-path="url(#cc)" fill="none">
<polyline points="33.60,438.66 34.07,438.67 34.54,438.67 35.01,438.67 35.48,438.67 35.94,438.67 36.41,438.67 36.88,438.66 37.35,438.65 37.82,438.64 38.29,438.63 38.76,438.61 39.23,438.58 39.70,438.56 40.16,438.52 40.63,438.48 41.10,438.44 41.57,438.39 42.04,438.33 42.51,438.27 42.98,438.20 43.45,438.12 43.92,438.04 44.39,437.96 44.85,437.87 45.32,437.77 45.79,437.67 46.26,437.57 46.73,437.46 47.20,437.34 47.67,437.22 48.14,437.10 48.61,436.97 49.07,436.83 49.54,436.70 50.01,436.55 50.48,436.41 50.95,436.26 51.42,436.10 51.89,435.94 52.36,435.78 52.83,435.61 53.29,435.44 53.76,435.26 54.23,435.07 54.70,434.88 55.17,434.68 55.64,434.47 56.11,434.24 56.58,434.01 57.05,433.77 57.51,433.51 57.98,433.24 58.45,432.95 58.92,432.65 59.39,432.34 59.86,432.01 60.33,431.65 60.80,431.29 61.27,430.90 61.73,430.49 62.20,430.06 62.67,429.60 63.14,429.12 63.61,428.61 64.08,428.08 64.55,427.51 65.02,426.92 65.49,426.29 65.95,425.63 66.42,424.94 66.89,424.21 67.36,423.45 67.83,422.64 68.30,421.80 68.77,420.92 69.24,420.01 69.71,419.06 70.18,418.07 70.64,417.05 71.11,415.99 71.58,414.90 72.05,413.77 72.52,412.60 72.99,411.40 73.46,410.17 73.93,408.91 74.40,407.62 74.86,406.31 75.33,404.97 75.80,403.61 76.27,402.23 76.74,400.83 77.21,399.42 77.68,398.00 78.15,396.55 78.62,395.09 79.08,393.61 79.55,392.10 80.02,390.58 80.49,389.02 80.96,387.44 81.43,385.83 81.90,384.19 82.37,382.52 82.84,380.82 83.30,379.10 83.77,377.36 84.24,375.60 84.71,373.83 85.18,372.05 85.65,370.26 86.12,368.46 86.59,366.67 87.06,364.87 87.53,363.07 87.99,361.27 88.46,359.48 88.93,357.68 89.40,355.89 89.87,354.10 90.34,352.32 90.81,350.55 91.28,348.78 91.75,347.02 92.21,345.28 92.68,343.54 93.15,341.82 93.62,340.11 94.09,338.42 94.56,336.74 95.03,335.09 95.50,333.45 95.97,331.83 96.43,330.24 96.90,328.67 97.37,327.12 97.84,325.59 98.31,324.10 98.78,322.63 99.25,321.18 99.72,319.77 100.19,318.39 100.65,317.03 101.12,315.71 101.59,314.42 102.06,313.17 102.53,311.95 103.00,310.76 103.47,309.61 103.94,308.49 104.41,307.41 104.87,306.36 105.34,305.34 105.81,304.36 106.28,303.42 106.75,302.51 107.22,301.64 107.69,300.80 108.16,300.01 108.63,299.25 109.09,298.53 109.56,297.86 110.03,297.23 110.50,296.65 110.97,296.12 111.44,295.65 111.91,295.23 112.38,294.87 112.85,294.57 113.32,294.33 113.78,294.16 114.25,294.05 114.72,294.01 115.19,294.04 115.66,294.13 116.13,294.30 116.60,294.53 117.07,294.84 117.54,295.23 118.00,295.68 118.47,296.21 118.94,296.82 119.41,297.51 119.88,298.27 120.35,299.11 120.82,300.02 121.29,301.01 121.76,302.07 122.22,303.20 122.69,304.40 123.16,305.67 123.63,307.01 124.10,308.41 124.57,309.88 125.04,311.40 125.51,312.97 125.98,314.59 126.44,316.26 126.91,317.96 127.38,319.71 127.85,321.48 128.32,323.29 128.79,325.13 129.26,326.99 129.73,328.86 130.20,330.76 130.66,332.66 131.13,334.58 131.60,336.50 132.07,338.43 132.54,340.36 133.01,342.29 133.48,344.22 133.95,346.16 134.42,348.09 134.89,350.02 135.35,351.94 135.82,353.86 136.29,355.78 136.76,357.68 137.23,359.57 137.70,361.44 138.17,363.30 138.64,365.14 139.11,366.95 139.57,368.75 140.04,370.51 140.51,372.26 140.98,373.98 141.45,375.68 141.92,377.36 142.39,379.01 142.86,380.64 143.33,382.25 143.79,383.83 144.26,385.40 144.73,386.93 145.20,388.44 145.67,389.92 146.14,391.37 146.61,392.80 147.08,394.19 147.55,395.54 148.01,396.86 148.48,398.15 148.95,399.40 149.42,400.61 149.89,401.79 150.36,402.94 150.83,404.06 151.30,405.14 151.77,406.21 152.23,407.24 152.70,408.26 153.17,409.25 153.64,410.22 154.11,411.18 154.58,412.12 155.05,413.05 155.52,413.96 155.99,414.86 156.46,415.75 156.92,416.63 157.39,417.48 157.86,418.32 158.33,419.14 158.80,419.94 159.27,420.71 159.74,421.45 160.21,422.17 160.68,422.85 161.14,423.51 161.61,424.14 162.08,424.73 162.55,425.30 163.02,425.84 163.49,426.36 163.96,426.85 164.43,427.32 164.90,427.78 165.36,428.21 165.83,428.63 166.30,429.03 166.77,429.42 167.24,429.79 167.71,430.16 168.18,430.51 168.65,430.85 169.12,431.18 169.58,431.50 170.05,431.82 170.52,432.13 170.99,432.43 171.46,432.73 171.93,433.02 172.40,433.31 172.87,433.60 173.34,433.88 173.80,434.17" stroke="#cfcfcf" stroke-width="2.7"/>
<polyline points="33.60,438.66 34.07,438.67 34.54,438.67 35.01,438.67 35.48,438.67 35.94,438.67 36.41,438.67 36.88,438.66 37.35,438.65 37.82,438.64 38.29,438.63 38.76,438.61 39.23,438.58 39.70,438.56 40.16,438.52 40.63,438.48 41.10,438.44 41.57,438.39 42.04,438.33 42.51,438.27 42.98,438.20 43.45,438.12 43.92,438.04 44.39,437.96 44.85,437.87 45.32,437.77 45.79,437.67 46.26,437.57 46.73,437.46 47.20,437.34 47.67,437.22 48.14,437.10 48.61,436.97 49.07,436.83 49.54,436.70 50.01,436.55 50.48,436.41 50.95,436.26 51.42,436.10 51.89,435.94 52.36,435.78 52.83,435.61 53.29,435.44 53.76,435.26 54.23,435.07 54.70,434.88 55.17,434.68 55.64,434.47 56.11,434.24 56.58,434.01 57.05,433.77 57.51,433.51 57.98,433.24 58.45,432.95 58.92,432.65 59.39,432.34 59.86,432.01 60.33,431.65 60.80,431.29 61.27,430.90 61.73,430.49 62.20,430.06 62.67,429.60 63.14,429.12 63.61,428.61 64.08,428.08 64.55,427.51 65.02,426.92 65.49,426.29 65.95,425.63 66.42,424.94 66.89,424.21 67.36,423.45 67.83,422.64 68.30,421.80 68.77,420.92 69.24,420.01 69.71,419.06 70.18,418.07 70.64,417.05 71.11,415.99 71.58,414.90 72.05,413.77 72.52,412.60 72.99,411.40 73.46,410.17 73.93,408.91 74.40,407.62 74.86,406.31 75.33,404.97 75.80,403.61 76.27,402.23 76.74,400.83 77.21,399.42 77.68,398.00 78.15,396.55 78.62,395.09 79.08,393.61 79.55,392.10 80.02,390.58 80.49,389.02 80.96,387.44 81.43,385.83 81.90,384.19 82.37,382.52 82.84,380.82 83.30,379.10 83.77,377.36 84.24,375.60 84.71,373.83 85.18,372.05 85.65,370.26 86.12,368.46 86.59,366.67 87.06,364.87 87.53,363.07 87.99,361.27 88.46,359.48 88.93,357.68 89.40,355.89 89.87,354.10 90.34,352.32 90.81,350.55 91.28,348.78 91.75,347.02 92.21,345.28 92.68,343.54 93.15,341.82 93.62,340.11 94.09,338.42 94.56,336.74 95.03,335.09 95.50,333.45 95.97,331.83 96.43,330.24 96.90,328.67 97.37,327.12 97.84,325.59 98.31,324.10 98.78,322.63 99.25,321.18 99.72,319.77 100.19,318.39 100.65,317.03 101.12,315.71 101.59,314.42 102.06,313.17 102.53,311.95 103.00,310.76 103.47,309.61 103.94,308.49 104.41,307.41 104.87,306.36 105.34,305.34 105.81,304.36 106.28,303.42 106.75,302.51 107.22,301.64 107.69,300.80 108.16,300.01 108.63,299.25 109.09,298.53 109.56,297.86 110.03,297.23 110.50,296.65 110.97,296.12 111.44,295.65 111.91,295.23 112.38,294.87 112.85,294.57 113.32,294.33 113.78,294.16 114.25,294.05 114.72,294.01 115.19,294.04 115.66,294.13 116.13,294.30 116.60,294.53 117.07,294.84 117.54,295.23 118.00,295.68 118.47,296.21 118.94,296.82 119.41,297.51 119.88,298.27 120.35,299.11 120.82,300.02 121.29,301.01 121.76,302.07 122.22,303.20 122.69,304.40 123.16,305.67 123.63,307.01 124.10,308.41 124.57,309.88 125.04,311.40 125.51,312.97 125.98,314.59 126.44,316.26 126.91,317.96 127.38,319.71 127.85,321.48 128.32,323.29 128.79,325.13 129.26,326.99 129.73,328.86 130.20,330.76 130.66,332.66 131.13,334.58 131.60,336.50 132.07,338.43 132.54,340.36 133.01,342.29 133.48,344.22 133.95,346.16 134.42,348.09 134.89,350.02 135.35,351.94 135.82,353.86 136.29,355.78 136.76,357.68 137.23,359.57 137.70,361.44 138.17,363.30 138.64,365.14 139.11,366.95 139.57,368.75 140.04,370.51 140.51,372.26 140.98,373.98 141.45,375.68 141.92,377.36 142.39,379.01 142.86,380.64 143.33,382.25 143.79,383.83 144.26,385.40 144.73,386.93 145.20,388.44 145.67,389.92 146.14,391.37 146.61,392.80 147.08,394.19 147.55,395.54 148.01,396.86 148.48,398.15 148.95,399.40 149.42,400.61 149.89,401.79 150.36,402.94 150.83,404.06 151.30,405.14 151.77,406.21 152.23,407.24 152.70,408.26 153.17,409.25 153.64,410.22 154.11,411.18 154.58,412.12 155.05,413.05 155.52,413.96 155.99,414.86 156.46,415.75 156.92,416.63 157.39,417.48 157.86,418.32 158.33,419.14 158.80,419.94 159.27,420.71 159.74,421.45 160.21,422.17 160.68,422.85 161.14,423.51 161.61,424.14 162.08,424.73 162.55,425.30 163.02,425.84 163.49,426.36 163.96,426.85 164.43,427.32 164.90,427.78 165.36,428.21 165.83,428.63 166.30,429.03 166.77,429.42 167.24,429.79 167.71,430.16 168.18,430.51 168.65,430.85 169.12,431.18 169.58,431.50 170.05,431.82 170.52,432.13 170.99,432.43 171.46,432.73 171.93,433.02 172.40,433.31 172.87,433.60 173.34,433.88 173.80,434.17" stroke="#999" stroke-width="2.5" stroke-dasharray="0.8 1.2"/>
<polyline points="33.60,439.28 34.07,439.08 34.54,438.89 35.01,438.69 35.48,438.49 35.94,438.29 36.41,438.09 36.88,437.88 37.35,437.67 37.82,437.46 38.29,437.24 38.76,437.01 39.23,436.78 39.70,436.54 40.16,436.30 40.63,436.05 41.10,435.79 41.57,435.52 42.04,435.24 42.51,434.95 42.98,434.65 43.45,434.34 43.92,434.02 44.39,433.69 44.85,433.34 45.32,432.98 45.79,432.60 46.26,432.21 46.73,431.80 47.20,431.38 47.67,430.94 48.14,430.48 48.61,430.00 49.07,429.51 49.54,428.99 50.01,428.46 50.48,427.91 50.95,427.34 51.42,426.75 51.89,426.15 52.36,425.54 52.83,424.91 53.29,424.28 53.76,423.63 54.23,422.97 54.70,422.30 55.17,421.62 55.64,420.94 56.11,420.25 56.58,419.56 57.05,418.86 57.51,418.16 57.98,417.46 58.45,416.75 58.92,416.04 59.39,415.32 59.86,414.60 60.33,413.88 60.80,413.15 61.27,412.41 61.73,411.66 62.20,410.91 62.67,410.14 63.14,409.37 63.61,408.59 64.08,407.80 64.55,406.99 65.02,406.18 65.49,405.35 65.95,404.51 66.42,403.66 66.89,402.80 67.36,401.92 67.83,401.03 68.30,400.13 68.77,399.21 69.24,398.28 69.71,397.34 70.18,396.39 70.64,395.42 71.11,394.43 71.58,393.44 72.05,392.43 72.52,391.41 72.99,390.38 73.46,389.35 73.93,388.31 74.40,387.27 74.86,386.23 75.33,385.19 75.80,384.16 76.27,383.13 76.74,382.11 77.21,381.10 77.68,380.10 78.15,379.11 78.62,378.12 79.08,377.13 79.55,376.16 80.02,375.18 80.49,374.21 80.96,373.24 81.43,372.27 81.90,371.30 82.37,370.33 82.84,369.35 83.30,368.38 83.77,367.40 84.24,366.42 84.71,365.44 85.18,364.45 85.65,363.47 86.12,362.48 86.59,361.49 87.06,360.50 87.53,359.52 87.99,358.53 88.46,357.54 88.93,356.55 89.40,355.56 89.87,354.58 90.34,353.59 90.81,352.61 91.28,351.62 91.75,350.64 92.21,349.66 92.68,348.68 93.15,347.70 93.62,346.73 94.09,345.75 94.56,344.78 95.03,343.82 95.50,342.86 95.97,341.90 96.43,340.95 96.90,340.01 97.37,339.07 97.84,338.14 98.31,337.22 98.78,336.31 99.25,335.40 99.72,334.51 100.19,333.63 100.65,332.75 101.12,331.89 101.59,331.04 102.06,330.19 102.53,329.36 103.00,328.53 103.47,327.70 103.94,326.89 104.41,326.08 104.87,325.27 105.34,324.47 105.81,323.68 106.28,322.89 106.75,322.10 107.22,321.32 107.69,320.54 108.16,319.76 108.63,318.99 109.09,318.23 109.56,317.48 110.03,316.73 110.50,315.99 110.97,315.27 111.44,314.55 111.91,313.84 112.38,313.14 112.85,312.46 113.32,311.79 113.78,311.13 114.25,310.48 114.72,309.85 115.19,309.24 115.66,308.64 116.13,308.05 116.60,307.48 117.07,306.93 117.54,306.38 118.00,305.86 118.47,305.35 118.94,304.85 119.41,304.37 119.88,303.90 120.35,303.45 120.82,303.02 121.29,302.60 121.76,302.19 122.22,301.81 122.69,301.44 123.16,301.09 123.63,300.77 124.10,300.46 124.57,300.17 125.04,299.91 125.51,299.67 125.98,299.45 126.44,299.26 126.91,299.10 127.38,298.96 127.85,298.85 128.32,298.77 128.79,298.71 129.26,298.69 129.73,298.69 130.20,298.72 130.66,298.78 131.13,298.86 131.60,298.97 132.07,299.10 132.54,299.26 133.01,299.45 133.48,299.65 133.95,299.89 134.42,300.14 134.89,300.42 135.35,300.72 135.82,301.04 136.29,301.38 136.76,301.74 137.23,302.11 137.70,302.50 138.17,302.91 138.64,303.33 139.11,303.76 139.57,304.20 140.04,304.66 140.51,305.13 140.98,305.61 141.45,306.11 141.92,306.63 142.39,307.16 142.86,307.72 143.33,308.29 143.79,308.88 144.26,309.50 144.73,310.13 145.20,310.79 145.67,311.47 146.14,312.17 146.61,312.89 147.08,313.63 147.55,314.39 148.01,315.18 148.48,315.98 148.95,316.80 149.42,317.64 149.89,318.50 150.36,319.37 150.83,320.25 151.30,321.14 151.77,322.04 152.23,322.93 152.70,323.83 153.17,324.72 153.64,325.60 154.11,326.48 154.58,327.34 155.05,328.19 155.52,329.04 155.99,329.89 156.46,330.74 156.92,331.60 157.39,332.49 157.86,333.39 158.33,334.32 158.80,335.28 159.27,336.27 159.74,337.30 160.21,338.36 160.68,339.45 161.14,340.56 161.61,341.71 162.08,342.87 162.55,344.05 163.02,345.25 163.49,346.47 163.96,347.70 164.43,348.95 164.90,350.20 165.36,351.46 165.83,352.72 166.30,353.99 166.77,355.26 167.24,356.53 167.71,357.80 168.18,359.07 168.65,360.33 169.12,361.60 169.58,362.86 170.05,364.13 170.52,365.40 170.99,366.66 171.46,367.93 171.93,369.19 172.40,370.45 172.87,371.72 173.34,372.98 173.80,374.25" stroke="#2020e0" stroke-width="1.3"/>
<polyline points="33.60,438.66 34.07,438.48 34.54,438.30 35.01,438.11 35.48,437.92 35.94,437.72 36.41,437.52 36.88,437.30 37.35,437.08 37.82,436.85 38.29,436.60 38.76,436.34 39.23,436.06 39.70,435.76 40.16,435.45 40.63,435.11 41.10,434.76 41.57,434.38 42.04,433.98 42.51,433.56 42.98,433.12 43.45,432.66 43.92,432.19 44.39,431.70 44.85,431.20 45.32,430.68 45.79,430.15 46.26,429.61 46.73,429.07 47.20,428.51 47.67,427.95 48.14,427.38 48.61,426.81 49.07,426.24 49.54,425.67 50.01,425.09 50.48,424.50 50.95,423.91 51.42,423.31 51.89,422.70 52.36,422.08 52.83,421.44 53.29,420.78 53.76,420.11 54.23,419.41 54.70,418.69 55.17,417.95 55.64,417.18 56.11,416.38 56.58,415.55 57.05,414.69 57.51,413.79 57.98,412.86 58.45,411.89 58.92,410.90 59.39,409.88 59.86,408.83 60.33,407.77 60.80,406.69 61.27,405.60 61.73,404.49 62.20,403.37 62.67,402.25 63.14,401.13 63.61,400.00 64.08,398.87 64.55,397.74 65.02,396.59 65.49,395.44 65.95,394.28 66.42,393.10 66.89,391.92 67.36,390.72 67.83,389.51 68.30,388.29 68.77,387.05 69.24,385.79 69.71,384.51 70.18,383.22 70.64,381.93 71.11,380.62 71.58,379.32 72.05,378.01 72.52,376.71 72.99,375.42 73.46,374.14 73.93,372.88 74.40,371.63 74.86,370.41 75.33,369.22 75.80,368.05 76.27,366.91 76.74,365.78 77.21,364.69 77.68,363.61 78.15,362.55 78.62,361.52 79.08,360.50 79.55,359.51 80.02,358.53 80.49,357.57 80.96,356.63 81.43,355.70 81.90,354.80 82.37,353.92 82.84,353.07 83.30,352.25 83.77,351.45 84.24,350.68 84.71,349.95 85.18,349.25 85.65,348.59 86.12,347.96 86.59,347.38 87.06,346.85 87.53,346.36 87.99,345.93 88.46,345.55 88.93,345.22 89.40,344.95 89.87,344.75 90.34,344.61 90.81,344.54 91.28,344.54 91.75,344.61 92.21,344.74 92.68,344.94 93.15,345.21 93.62,345.54 94.09,345.94 94.56,346.40 95.03,346.93 95.50,347.52 95.97,348.17 96.43,348.88 96.90,349.64 97.37,350.44 97.84,351.28 98.31,352.15 98.78,353.04 99.25,353.96 99.72,354.89 100.19,355.82 100.65,356.77 101.12,357.72 101.59,358.69 102.06,359.67 102.53,360.66 103.00,361.66 103.47,362.68 103.94,363.72 104.41,364.77 104.87,365.84 105.34,366.93 105.81,368.04 106.28,369.17 106.75,370.32 107.22,371.50 107.69,372.69 108.16,373.90 108.63,375.13 109.09,376.37 109.56,377.63 110.03,378.89 110.50,380.16 110.97,381.44 111.44,382.72 111.91,384.01 112.38,385.29 112.85,386.58 113.32,387.85 113.78,389.13 114.25,390.39 114.72,391.65 115.19,392.90 115.66,394.13 116.13,395.36 116.60,396.56 117.07,397.76 117.54,398.93 118.00,400.09 118.47,401.23 118.94,402.35 119.41,403.45 119.88,404.54 120.35,405.60 120.82,406.65 121.29,407.67 121.76,408.68 122.22,409.67 122.69,410.65 123.16,411.61 123.63,412.55 124.10,413.47 124.57,414.38 125.04,415.28 125.51,416.16 125.98,417.04 126.44,417.90 126.91,418.75 127.38,419.59 127.85,420.43 128.32,421.25 128.79,422.06 129.26,422.86 129.73,423.64 130.20,424.41 130.66,425.16 131.13,425.89 131.60,426.59 132.07,427.28 132.54,427.94 133.01,428.59 133.48,429.20 133.95,429.80 134.42,430.37 134.89,430.91 135.35,431.44 135.82,431.93 136.29,432.41 136.76,432.86 137.23,433.28 137.70,433.68 138.17,434.06 138.64,434.41 139.11,434.75 139.57,435.06 140.04,435.36 140.51,435.63 140.98,435.90 141.45,436.14 141.92,436.37 142.39,436.58 142.86,436.78 143.33,436.97 143.79,437.14 144.26,437.31 144.73,437.46 145.20,437.60 145.67,437.73 146.14,437.86 146.61,437.97 147.08,438.08 147.55,438.18 148.01,438.27 148.48,438.36 148.95,438.44 149.42,438.51 149.89,438.58 150.36,438.65 150.83,438.72 151.30,438.78 151.77,438.84 152.23,438.90 152.70,438.95 153.17,439.00 153.64,439.05 154.11,439.09 154.58,439.14 155.05,439.18 155.52,439.22 155.99,439.25 156.46,439.29 156.92,439.32 157.39,439.35 157.86,439.38 158.33,439.41 158.80,439.43 159.27,439.46 159.74,439.48 160.21,439.50 160.68,439.52 161.14,439.54 161.61,439.55 162.08,439.57 162.55,439.58 163.02,439.60 163.49,439.61 163.96,439.62 164.43,439.63 164.90,439.64 165.36,439.65 165.83,439.65 166.30,439.66 166.77,439.67 167.24,439.67 167.71,439.67 168.18,439.68 168.65,439.68 169.12,439.68 169.58,439.68 170.05,439.69 170.52,439.69 170.99,439.69 171.46,439.69 171.93,439.69 172.40,439.69 172.87,439.69 173.34,439.69 173.80,439.69" stroke="#111" stroke-width="1.3"/>
<polyline points="33.60,438.30 34.07,438.33 34.54,438.26 35.01,438.10 35.48,437.86 35.94,437.53 36.41,437.14 36.88,436.69 37.35,436.18 37.82,435.62 38.29,435.02 38.76,434.39 39.23,433.73 39.70,433.06 40.16,432.37 40.63,431.69 41.10,431.01 41.57,430.34 42.04,429.69 42.51,429.07 42.98,428.49 43.45,427.94 43.92,427.45 44.39,427.02 44.85,426.64 45.32,426.33 45.79,426.07 46.26,425.87 46.73,425.72 47.20,425.62 47.67,425.57 48.14,425.57 48.61,425.61 49.07,425.70 49.54,425.83 50.01,426.00 50.48,426.20 50.95,426.45 51.42,426.73 51.89,427.04 52.36,427.38 52.83,427.75 53.29,428.15 53.76,428.57 54.23,429.01 54.70,429.48 55.17,429.95 55.64,430.44 56.11,430.94 56.58,431.45 57.05,431.96 57.51,432.47 57.98,432.98 58.45,433.48 58.92,433.97 59.39,434.45 59.86,434.92 60.33,435.37 60.80,435.79 61.27,436.19 61.73,436.57 62.20,436.91 62.67,437.22 63.14,437.50 63.61,437.74 64.08,437.95 64.55,438.13 65.02,438.29 65.49,438.43 65.95,438.54 66.42,438.64 66.89,438.73 67.36,438.80 67.83,438.87 68.30,438.93 68.77,438.99 69.24,439.05 69.71,439.10 70.18,439.16 70.64,439.21 71.11,439.25 71.58,439.30 72.05,439.34 72.52,439.38 72.99,439.41 73.46,439.45 73.93,439.48 74.40,439.51 74.86,439.54 75.33,439.56 75.80,439.58 76.27,439.61 76.74,439.62 77.21,439.64 77.68,439.66 78.15,439.67 78.62,439.68 79.08,439.69 79.55,439.70 80.02,439.70 80.49,439.70 80.96,439.71 81.43,439.71 81.90,439.70 82.37,439.70 82.84,439.69 83.30,439.69 83.77,439.68 84.24,439.67 84.71,439.66 85.18,439.65 85.65,439.63 86.12,439.62 86.59,439.60 87.06,439.58 87.53,439.56 87.99,439.54 88.46,439.52 88.93,439.50 89.40,439.48 89.87,439.45 90.34,439.42 90.81,439.40 91.28,439.37 91.75,439.34 92.21,439.31 92.68,439.28 93.15,439.25 93.62,439.22 94.09,439.19 94.56,439.15 95.03,439.12 95.50,439.09 95.97,439.05 96.43,439.02 96.90,438.98 97.37,438.94 97.84,438.91 98.31,438.87 98.78,438.83 99.25,438.80 99.72,438.76 100.19,438.72 100.65,438.68 101.12,438.64 101.59,438.61 102.06,438.57 102.53,438.53 103.00,438.49 103.47,438.45 103.94,438.41 104.41,438.37 104.87,438.34 105.34,438.30 105.81,438.26 106.28,438.22 106.75,438.19 107.22,438.15 107.69,438.11 108.16,438.08 108.63,438.04 109.09,438.01 109.56,437.97 110.03,437.94 110.50,437.91 110.97,437.88 111.44,437.84 111.91,437.81 112.38,437.78 112.85,437.75 113.32,437.73 113.78,437.70 114.25,437.67 114.72,437.65 115.19,437.62 115.66,437.60 116.13,437.58 116.60,437.55 117.07,437.53 117.54,437.52 118.00,437.50 118.47,437.48 118.94,437.47 119.41,437.45 119.88,437.44 120.35,437.43 120.82,437.42 121.29,437.41 121.76,437.41 122.22,437.40 122.69,437.40 123.16,437.40 123.63,437.40 124.10,437.40 124.57,437.40 125.04,437.41 125.51,437.41 125.98,437.42 126.44,437.43 126.91,437.45 127.38,437.46 127.85,437.48 128.32,437.49 128.79,437.51 129.26,437.53 129.73,437.56 130.20,437.58 130.66,437.60 131.13,437.63 131.60,437.66 132.07,437.69 132.54,437.72 133.01,437.75 133.48,437.78 133.95,437.81 134.42,437.85 134.89,437.88 135.35,437.92 135.82,437.96 136.29,438.00 136.76,438.03 137.23,438.07 137.70,438.11 138.17,438.16 138.64,438.20 139.11,438.24 139.57,438.28 140.04,438.33 140.51,438.37 140.98,438.41 141.45,438.46 141.92,438.50 142.39,438.55 142.86,438.59 143.33,438.64 143.79,438.69 144.26,438.73 144.73,438.78 145.20,438.82 145.67,438.87 146.14,438.91 146.61,438.96 147.08,439.01 147.55,439.05 148.01,439.10 148.48,439.14 148.95,439.19 149.42,439.23 149.89,439.27 150.36,439.32 150.83,439.36 151.30,439.40 151.77,439.44 152.23,439.48 152.70,439.52 153.17,439.56 153.64,439.60 154.11,439.64 154.58,439.68 155.05,439.71 155.52,439.75 155.99,439.78 156.46,439.81 156.92,439.85 157.39,439.88 157.86,439.91 158.33,439.93 158.80,439.96 159.27,439.99 159.74,440.01 160.21,440.04 160.68,440.06 161.14,440.08 161.61,440.10 162.08,440.11 162.55,440.13 163.02,440.14 163.49,440.15 163.96,440.16 164.43,440.17 164.90,440.18 165.36,440.18 165.83,440.19 166.30,440.19 166.77,440.18 167.24,440.18 167.71,440.18 168.18,440.17 168.65,440.16 169.12,440.15 169.58,440.13 170.05,440.12 170.52,440.10 170.99,440.07 171.46,440.05 171.93,440.02 172.40,440.00 172.87,439.96 173.34,439.93 173.80,439.89" stroke="#ee2020" stroke-width="1.3"/>
</g>
<rect x="33.6" y="288" width="140.20000000000002" height="153.8" fill="none" stroke="#777" stroke-width="1"/>
<line x1="33.6" y1="440.30" x2="38.1" y2="440.30" stroke="#777" stroke-width="0.9"/>
<line x1="33.6" y1="419.85" x2="36.2" y2="419.85" stroke="#777" stroke-width="0.9"/>
<line x1="33.6" y1="399.40" x2="38.1" y2="399.40" stroke="#777" stroke-width="0.9"/>
<line x1="33.6" y1="378.95" x2="36.2" y2="378.95" stroke="#777" stroke-width="0.9"/>
<line x1="33.6" y1="358.50" x2="38.1" y2="358.50" stroke="#777" stroke-width="0.9"/>
<line x1="33.6" y1="338.05" x2="36.2" y2="338.05" stroke="#777" stroke-width="0.9"/>
<line x1="33.6" y1="317.60" x2="38.1" y2="317.60" stroke="#777" stroke-width="0.9"/>
<line x1="33.6" y1="297.15" x2="36.2" y2="297.15" stroke="#777" stroke-width="0.9"/>
<line x1="33.60" y1="441.8" x2="33.60" y2="439.0" stroke="#777" stroke-width="0.9"/>
<line x1="45.28" y1="441.8" x2="45.28" y2="439.0" stroke="#777" stroke-width="0.9"/>
<line x1="56.97" y1="441.8" x2="56.97" y2="439.0" stroke="#777" stroke-width="0.9"/>
<line x1="68.65" y1="441.8" x2="68.65" y2="439.0" stroke="#777" stroke-width="0.9"/>
<line x1="80.34" y1="441.8" x2="80.34" y2="439.0" stroke="#777" stroke-width="0.9"/>
<line x1="92.02" y1="441.8" x2="92.02" y2="439.0" stroke="#777" stroke-width="0.9"/>
<line x1="103.70" y1="441.8" x2="103.70" y2="439.0" stroke="#777" stroke-width="0.9"/>
<line x1="115.39" y1="441.8" x2="115.39" y2="439.0" stroke="#777" stroke-width="0.9"/>
<line x1="127.07" y1="441.8" x2="127.07" y2="439.0" stroke="#777" stroke-width="0.9"/>
<line x1="138.75" y1="441.8" x2="138.75" y2="439.0" stroke="#777" stroke-width="0.9"/>
<line x1="150.44" y1="441.8" x2="150.44" y2="439.0" stroke="#777" stroke-width="0.9"/>
<line x1="162.12" y1="441.8" x2="162.12" y2="439.0" stroke="#777" stroke-width="0.9"/>
<line x1="173.80" y1="441.8" x2="173.80" y2="439.0" stroke="#777" stroke-width="0.9"/>
<text x="30.8" y="443.60" font-size="9.2" text-anchor="end" fill="#333">0</text>
<text x="30.8" y="402.70" font-size="9.2" text-anchor="end" fill="#333">20</text>
<text x="30.8" y="361.80" font-size="9.2" text-anchor="end" fill="#333">40</text>
<text x="30.8" y="320.90" font-size="9.2" text-anchor="end" fill="#333">60</text>
<text x="33.60" y="453.8" font-size="9.3" text-anchor="middle" fill="#333">0</text>
<text x="56.97" y="453.8" font-size="9.3" text-anchor="middle" fill="#333">25</text>
<text x="80.34" y="453.8" font-size="9.3" text-anchor="middle" fill="#333">50</text>
<text x="103.70" y="453.8" font-size="9.3" text-anchor="middle" fill="#333">75</text>
<text x="127.07" y="453.8" font-size="9.3" text-anchor="middle" fill="#333">100</text>
<text x="150.44" y="453.8" font-size="9.3" text-anchor="middle" fill="#333">125</text>
<text x="173.80" y="453.8" font-size="9.3" text-anchor="middle" fill="#333">150</text>
<text x="102.7" y="468.3" font-size="9.7" textLength="140.6" lengthAdjust="spacingAndGlyphs" text-anchor="middle" fill="#222">Thickness of dielectric layer (nm)</text>
<text transform="translate(17.8,372.2) rotate(-90)" font-size="9.8" textLength="88.5" lengthAdjust="spacingAndGlyphs" text-anchor="middle" fill="#222">Enhancement factor</text>
<text x="49.6" y="305" font-size="8.8" fill="#222">Gr/SiO<tspan font-size="6" dy="2">2</tspan><tspan dy="-2">/Si</tspan></text>
<text x="60" y="318.6" font-size="8.6" fill="#222">x 1/2</text>
<text x="107" y="361.7" font-size="8.8" fill="#222">Gr/Air/Cu</text>
<text x="75" y="413.5" font-size="8.8" fill="#222">Gr/SiO<tspan font-size="6" dy="2">2</tspan><tspan dy="-2">/Cu</tspan></text>
<text x="69.5" y="433.6" font-size="8.4" fill="#222">Gr/Cu<tspan font-size="5.5" dy="2">2</tspan><tspan dy="-2">O/Cu</tspan></text>
<line x1="127.4" y1="354" x2="127.4" y2="305.0" stroke="#333" stroke-width="0.8"/>
<polygon points="127.4,301.5 125.80000000000001,305.5 129.0,305.5" fill="#333"/>
<line x1="91.4" y1="404" x2="91.4" y2="350.0" stroke="#333" stroke-width="0.8"/>
<polygon points="91.4,346.5 89.80000000000001,350.5 93.0,350.5" fill="#333"/>
<line x1="49" y1="393" x2="49" y2="420.5" stroke="#333" stroke-width="0.8"/>
<polygon points="49,424 47.4,420 50.6,420" fill="#333"/>
<line x1="89.5" y1="301.4" x2="101.5" y2="298.7" stroke="#333" stroke-width="0.8"/>
<polygon points="105.5,297.8 100.8,296.6 101.8,300.7" fill="#333"/>
<defs>
<filter id="b2" x="-20%" y="-20%" width="140%" height="140%"><feGaussianBlur stdDeviation="2"/></filter>
<filter id="b3" x="-20%" y="-20%" width="140%" height="140%"><feGaussianBlur stdDeviation="3"/></filter>
<filter id="b05" x="-20%" y="-20%" width="140%" height="140%"><feGaussianBlur stdDeviation="0.6"/></filter>
<filter id="b1" x="-20%" y="-20%" width="140%" height="140%"><feGaussianBlur stdDeviation="1.2"/></filter>
<filter id="tex" x="0" y="0" width="100%" height="100%">
  <feTurbulence type="fractalNoise" baseFrequency="0.2" numOctaves="2" seed="3"/>
  <feColorMatrix type="matrix" values="0 0 0 0 0.38  0 0 0 0 0.1  0 0 0 0 0.03  0 0 0 3.4 -1.3"/>
</filter>
<filter id="tex2" x="0" y="0" width="100%" height="100%">
  <feTurbulence type="fractalNoise" baseFrequency="0.2" numOctaves="2" seed="11"/>
  <feColorMatrix type="matrix" values="0 0 0 0 0.97  0 0 0 0 0.7  0 0 0 0 0.24  3 0 0 0 -1.4"/>
</filter>
<filter id="stY" x="0" y="0" width="100%" height="100%">
  <feTurbulence type="fractalNoise" baseFrequency="0.07 0.17" numOctaves="2" seed="5"/>
  <feColorMatrix type="matrix" values="0 0 0 0 0.97  0 0 0 0 0.7  0 0 0 0 0.25  2.6 0 0 0 -1.35"/>
</filter>
<filter id="stR" x="0" y="0" width="100%" height="100%">
  <feTurbulence type="fractalNoise" baseFrequency="0.07 0.17" numOctaves="2" seed="9"/>
  <feColorMatrix type="matrix" values="0 0 0 0 0.9  0 0 0 0 0.2  0 0 0 0 0.08  0 3 0 0 -1.45"/>
</filter>
<clipPath id="clR"><rect x="329.5" y="353.1" width="87" height="87.3"/></clipPath>
<clipPath id="clG"><rect x="430.7" y="353.1" width="86.6" height="86.3"/></clipPath>
<clipPath id="clS"><polygon points="201.5,381 208,378.5 230,374 250,371 273,371 275,376 300.8,419.4 262,425 225,428.5"/></clipPath>
<linearGradient id="cbar" x1="0" y1="0" x2="0" y2="1"><stop offset="0" stop-color="#ffffff"/><stop offset="0.05" stop-color="#ffffc0"/><stop offset="0.1" stop-color="#ffff20"/><stop offset="0.17" stop-color="#ffff00"/><stop offset="0.21" stop-color="#ff90a0"/><stop offset="0.25" stop-color="#ff30ff"/><stop offset="0.31" stop-color="#ff10d0"/><stop offset="0.36" stop-color="#ff1020"/><stop offset="0.44" stop-color="#e01010"/><stop offset="0.48" stop-color="#905050"/><stop offset="0.51" stop-color="#30d0d0"/><stop offset="0.57" stop-color="#20f0e0"/><stop offset="0.62" stop-color="#10f060"/><stop offset="0.7" stop-color="#10f010"/><stop offset="0.76" stop-color="#10a020"/><stop offset="0.8" stop-color="#106060"/><stop offset="0.84" stop-color="#1010f0"/><stop offset="0.9" stop-color="#1010a0"/><stop offset="1" stop-color="#000030"/></linearGradient>
<radialGradient id="dome" cx="0.58" cy="0.42" r="0.62" fx="0.6" fy="0.4">
<stop offset="0" stop-color="#fffff4"/><stop offset="0.35" stop-color="#f8eab8"/><stop offset="0.62" stop-color="#e2b860"/><stop offset="0.85" stop-color="#b07a28"/><stop offset="1" stop-color="#7a4a10"/>
</radialGradient>
<radialGradient id="bump" cx="0.45" cy="0.4" r="0.6">
<stop offset="0" stop-color="#fbf0d0"/><stop offset="0.35" stop-color="#f0d490"/><stop offset="0.7" stop-color="#cc9a40"/><stop offset="1" stop-color="#a87020" stop-opacity="0"/>
</radialGradient>
<radialGradient id="dome2" cx="0.5" cy="0.45" r="0.55">
<stop offset="0" stop-color="#f8e8a0"/><stop offset="0.5" stop-color="#e0b050"/><stop offset="1" stop-color="#906010" stop-opacity="0"/>
</radialGradient>
</defs>
<rect x="198" y="354.5" width="109" height="86" fill="#000"/>
<polygon points="198.5,383.5 201.5,381 226,428.5 225,438" fill="#262626"/>
<polygon points="225,428.5 262,425 300.8,419.4 300.8,428.2 262,432 225,437.8" fill="#a8a8a8"/>
<g clip-path="url(#clS)">
<rect x="198" y="360" width="105" height="70" fill="#c46a1e"/>
<polygon points="248,371 274,370 276,377 284,392 270,384 256,378" fill="#a84838" filter="url(#b1)"/>
<polygon points="200,381 209,379 213,386 203,389" fill="#b84a2c" filter="url(#b1)"/>
<rect x="198" y="360" width="105" height="70" filter="url(#tex)"/>
<rect x="198" y="360" width="105" height="70" filter="url(#tex2)"/>
<polygon points="206.5,391 214,390 229,419 226,427" fill="#f4d070" opacity="0.75" filter="url(#b2)"/>
</g>
<path d="M205.5,387 C206,372 215,361 228,360.3 C242,360 251,369 254,387 Z" fill="url(#dome)"/>
<path d="M210.5,372 Q213.5,380 211.5,388 M216,367 Q219.5,378 217,388 M221.5,364 Q225,376 222.5,388" stroke="#5a3008" stroke-width="2.8" fill="none" opacity="0.7" filter="url(#b1)"/>
<g clip-path="url(#clS)">
<linearGradient id="rg" gradientUnits="userSpaceOnUse" x1="269.6" y1="389.0" x2="261.4" y2="405.0"><stop offset="0" stop-color="#d8a048" stop-opacity="0.5"/><stop offset="0.3" stop-color="#f2d890"/><stop offset="0.65" stop-color="#dcaa50"/><stop offset="1" stop-color="#b07020" stop-opacity="0.3"/></linearGradient>
<polygon points="242.1,375.0 297.1,403.0 288.9,419.0 233.9,391.0" fill="url(#rg)" filter="url(#b1)"/>
<line x1="244.4" y1="377.2" x2="236.7" y2="392.4" stroke="#4a2606" stroke-width="2.6" opacity="0.5" filter="url(#b1)"/>
<line x1="249.4" y1="379.7" x2="241.6" y2="394.9" stroke="#4a2606" stroke-width="2.6" opacity="0.5" filter="url(#b1)"/>
<line x1="254.3" y1="382.2" x2="246.6" y2="397.5" stroke="#4a2606" stroke-width="2.6" opacity="0.5" filter="url(#b1)"/>
<line x1="279.1" y1="394.8" x2="271.3" y2="410.1" stroke="#4a2606" stroke-width="2.6" opacity="0.5" filter="url(#b1)"/>
<line x1="284.6" y1="397.6" x2="276.8" y2="412.9" stroke="#4a2606" stroke-width="2.6" opacity="0.5" filter="url(#b1)"/>
<line x1="290.1" y1="400.4" x2="282.3" y2="415.7" stroke="#4a2606" stroke-width="2.6" opacity="0.5" filter="url(#b1)"/>
<ellipse cx="256.7" cy="393.5" rx="2.8" ry="9" transform="rotate(25 256.7 393.5)" fill="#3a1c04" opacity="0.8" filter="url(#b1)"/>
<ellipse cx="265.5" cy="396.5" rx="13" ry="7.5" transform="rotate(29 265.5 397.0)" fill="url(#bump)"/>
</g>
<text x="199" y="361.5" class="serif" font-size="8.5" fill="#c4c4c4">Z: 92.3nm</text>
<text transform="translate(200.5,404) rotate(60)" class="serif" font-size="7.2" fill="#d4d4d4">Y: 1.1μm</text>
<text transform="translate(249.5,438.7) rotate(-5)" class="serif" font-size="8" fill="#e0e0e0">X: 2.2μm</text>
<g clip-path="url(#clR)">
<rect x="329.5" y="353.1" width="87" height="87.3" fill="#ec5a20"/>
<polygon points="329.0,353.0 341.0,353.3 340.0,361.3 342.8,367.7 347.4,373.3 354.8,380.6 363.0,387.0 368.6,392.6 369.3,396.0 365.8,402.6 364.8,406.4 361.5,416.3 365.3,425.2 362.0,430.0 362.5,440.4 329.0,441.0" fill="#f38a2c" filter="url(#b1)"/>
<g transform="rotate(32 373 397)">
<rect x="310" y="335" width="126" height="124" filter="url(#stY)"/>
<rect x="310" y="335" width="126" height="124" filter="url(#stR)"/>
</g>
<polygon points="341,353 352,353 352,366 372,376 395,381 405,386 398,392 380,392 362,388 348,376 341,362" fill="#e8381a" opacity="0.8" filter="url(#b2)"/>
<polygon points="395,420 416,404 416,441 384,441" fill="#e83418" opacity="0.8" filter="url(#b2)"/>
<ellipse cx="402" cy="386" rx="7" ry="4" fill="#f39a3a" opacity="0.7" filter="url(#b2)"/>
<ellipse cx="410" cy="398" rx="4" ry="6" fill="#f08a30" opacity="0.6" filter="url(#b2)"/>
<polygon points="355.5,356.6 358.5,355.2 362.7,354.6 368.2,354.6 373.6,357.0 380.0,355.6 382.7,356.5 388.2,360.3 392.7,364.8 395.5,371.2 395.5,377.5 389.1,380.3 380.0,379.4 368.2,373.0 359.1,368.5 352.7,364.8 352.7,362.1" fill="#f6a030" opacity="0.9" filter="url(#b1)"/>
<ellipse cx="390" cy="374" rx="5.5" ry="4.5" fill="#f8e448" filter="url(#b2)"/>
<ellipse cx="359" cy="361" rx="5" ry="4" fill="#f8d848" filter="url(#b2)"/>
<ellipse cx="371" cy="366" rx="4.5" ry="3.5" fill="#ee5040" filter="url(#b2)"/>
<ellipse cx="411" cy="359" rx="8" ry="5.5" fill="#f8e060" filter="url(#b2)"/>
<ellipse cx="398" cy="356" rx="6" ry="2.5" fill="#f8c050" opacity="0.8" filter="url(#b2)"/>
<ellipse cx="344" cy="392" rx="7" ry="9" fill="#f6aa40" opacity="0.6" filter="url(#b3)"/>
<ellipse cx="338" cy="420" rx="5" ry="8" fill="#ec6a24" opacity="0.6" filter="url(#b3)"/>
<ellipse cx="350" cy="433" rx="7" ry="4" fill="#ea5a20" opacity="0.6" filter="url(#b3)"/>
<polygon points="372.0,413.4 377.6,406.8 381.4,407.3 389.9,413.0 392.7,416.2 403.1,414.8 405.0,417.2 401.2,420.5 395.5,424.2 392.7,429.9 387.1,437.4 385.5,440.4 374.0,440.4 372.0,434.0 371.0,425.0 371.5,417.0" fill="#f4b838" opacity="0.9" filter="url(#b1)"/>
<ellipse cx="384" cy="418" rx="7" ry="7" fill="#f8e870" filter="url(#b2)"/>
<ellipse cx="376.5" cy="412.5" rx="3" ry="3" fill="#fff0a8" filter="url(#b1)"/>
<ellipse cx="367" cy="435" rx="4" ry="4" fill="#fbf0a0" filter="url(#b1)"/>
<ellipse cx="373.5" cy="423" rx="2.5" ry="5" fill="#ea3a1c" filter="url(#b1)"/>
<ellipse cx="393" cy="428" rx="4" ry="3" fill="#ec4a20" opacity="0.8" filter="url(#b1)"/>
</g>
<path d="M355.5,356.6 L358.5,355.2 L362.7,354.6 L368.2,354.6 L373.6,357.0 L380.0,355.6 L382.7,356.5 L388.2,360.3 L392.7,364.8 L395.5,371.2 L395.5,377.5 L389.1,380.3 L380.0,379.4 L368.2,373.0 L359.1,368.5 L352.7,364.8 L352.7,362.1 Z" fill="none" stroke="#111" stroke-width="0.8" stroke-dasharray="1.1 0.9"/>
<path d="M341.0,353.3 L340.0,361.3 L342.8,367.7 L347.4,373.3 L354.8,380.6 L363.0,387.0 L368.6,392.6 L369.3,396.0 L365.8,402.6 L364.8,406.4 L361.5,416.3 L365.3,425.2 L362.0,430.0 L362.5,440.4" fill="none" stroke="#111" stroke-width="0.8" stroke-dasharray="1.1 0.9"/>
<path d="M372.0,413.4 L377.6,406.8 L381.4,407.3 L389.9,413.0 L392.7,416.2 L403.1,414.8 L405.0,417.2 L401.2,420.5 L395.5,424.2 L392.7,429.9 L387.1,437.4 L385.5,440.4 L374.0,440.4 L372.0,434.0 L371.0,425.0 L371.5,417.0 Z" fill="none" stroke="#111" stroke-width="0.8" stroke-dasharray="1.1 0.9"/>
<path d="M401.2,420.5 L405.0,417.2 L409.7,412.0 L416.0,405.2" fill="none" stroke="#111" stroke-width="0.8" stroke-dasharray="1.1 0.9"/>
<rect x="329.5" y="353.1" width="87" height="87.3" fill="none" stroke="#222" stroke-width="0.8"/>
<rect x="378.0" y="363.0" width="2" height="10" fill="#111"/>
<rect x="382.5" y="363.0" width="2" height="10" fill="#111"/>
<rect x="389.3" y="393.5" width="2" height="10" fill="#111"/>
<rect x="393.8" y="393.5" width="2" height="10" fill="#111"/>
<rect x="398.3" y="393.5" width="2" height="10" fill="#111"/>
<rect x="354.0" y="409.2" width="2" height="10" fill="#111"/>
<rect x="378.0" y="419.3" width="2" height="10" fill="#111"/>
<rect x="382.5" y="419.3" width="2" height="10" fill="#111"/>
<g clip-path="url(#clG)">
<rect x="430.7" y="353.1" width="86.6" height="86.3" fill="#1ee83a"/>
<ellipse cx="488.5" cy="356" rx="9" ry="4" fill="#34e8e4" filter="url(#b1)"/>
<ellipse cx="502" cy="376" rx="16" ry="6" fill="#34e8e4" filter="url(#b1)"/>
<ellipse cx="487" cy="393.5" rx="10" ry="4" fill="#34e8e4" filter="url(#b1)"/>
<ellipse cx="477" cy="414" rx="5" ry="4" fill="#34e8e4" filter="url(#b1)"/>
<ellipse cx="494" cy="422" rx="7" ry="4" fill="#34e8e4" filter="url(#b1)"/>
<ellipse cx="510" cy="425" rx="7" ry="4" fill="#34e8e4" filter="url(#b1)"/>
<ellipse cx="505" cy="356" rx="6" ry="2" fill="#34e8e4" filter="url(#b1)"/>
<circle cx="496" cy="413" r="2" fill="#10a830" filter="url(#b1)"/>
<circle cx="505" cy="415" r="2" fill="#10a830" filter="url(#b1)"/>
<circle cx="512" cy="404" r="2" fill="#10a830" filter="url(#b1)"/>
<circle cx="510" cy="392" r="2" fill="#10a830" filter="url(#b1)"/>
<polygon points="430.7,356 434,361 439,367 444,374 448,380 452,386 456,391 460,396 464,402 466,410 465.5,420 464.5,430 463.5,441 429,441 429,356" fill="#10a088" transform="translate(4.5,-2.5)" filter="url(#b3)"/>
<polygon points="430.7,356 434,361 439,367 444,374 448,380 452,386 456,391 460,396 464,402 466,410 465.5,420 464.5,430 463.5,441 429,441 429,356" fill="#1a1ae0" filter="url(#b1)"/>
<ellipse cx="439" cy="400" rx="4" ry="3" fill="#0a0a98" filter="url(#b1)"/>
<ellipse cx="456" cy="407" rx="4.5" ry="5" fill="#0a0a98" filter="url(#b1)"/>
<ellipse cx="437" cy="385" rx="4" ry="3" fill="#1010b0" filter="url(#b2)"/>
<ellipse cx="446" cy="421" rx="7" ry="4" fill="#107070" opacity="0.8" filter="url(#b2)"/>
<ellipse cx="446" cy="409" rx="2" ry="2" fill="#107070" opacity="0.8" filter="url(#b1)"/>
<path d="M443.5,353 L443,361 L446,368 L451,374 L458,380" stroke="#30e8e8" stroke-width="2" fill="none" filter="url(#b1)"/>
<polygon points="445,353.1 478,353.1 486,356 493,362 496,370 495,377 488,381 482,383 479,390 482,395 490,397 493,405 490,412 482,413.5 476,410 473.5,402 470.5,397.5 466,392 458,384 450,376 446,368 444,360" fill="#ff1430" filter="url(#b1)"/>
<ellipse cx="469" cy="366" rx="22" ry="11.5" transform="rotate(18 469 366)" fill="#ff22c8" filter="url(#b2)"/>
<ellipse cx="462" cy="375" rx="5" ry="5" fill="#ff22c8" filter="url(#b2)"/>
<ellipse cx="477" cy="367.5" rx="9.5" ry="6" transform="rotate(10 477 367.5)" fill="#ffff30" filter="url(#b1)"/>
<ellipse cx="477.7" cy="368" rx="4" ry="2.5" fill="#ffffd0" filter="url(#b1)"/>
<ellipse cx="457" cy="364" rx="3" ry="3.5" fill="#ffff30" filter="url(#b1)"/>
<ellipse cx="482" cy="403" rx="7" ry="7" fill="#ff22c8" filter="url(#b1)"/>
<ellipse cx="485" cy="405.5" rx="3.2" ry="3.2" fill="#ffff30" filter="url(#b1)"/>
<polygon points="495,361 517.3,360 517.3,374 505,373 497,369" fill="#ff1430" filter="url(#b1)"/>
<ellipse cx="511" cy="370" rx="4" ry="2.5" fill="#ff22c8" filter="url(#b1)"/>
<polygon points="482,384 500,381 504,385 501,391 488,392 482,389" fill="#ff1430" filter="url(#b1)"/>
<ellipse cx="492" cy="387.5" rx="7" ry="2.2" fill="#ff30d0" filter="url(#b1)"/>
<ellipse cx="493" cy="387.8" rx="3.5" ry="1" fill="#ff9070" filter="url(#b1)"/>
<ellipse cx="478" cy="422.5" rx="8" ry="5.5" fill="#ff1440" filter="url(#b1)"/>
<ellipse cx="478" cy="422.5" rx="5" ry="3.2" fill="#ff30d8" filter="url(#b1)"/>
<ellipse cx="500.5" cy="434" rx="9.5" ry="8" fill="#ff1430" filter="url(#b1)"/>
<ellipse cx="499" cy="433.5" rx="4.5" ry="4" fill="#ff30c8" filter="url(#b1)"/>
<ellipse cx="508" cy="432" rx="3.5" ry="1.4" fill="#a0f060" filter="url(#b1)"/>
</g>
<path d="M456.7,356.6 L459.7,355.2 L463.9,354.6 L469.4,354.6 L474.8,357.0 L481.2,355.6 L483.9,356.5 L489.4,360.3 L493.9,364.8 L496.7,371.2 L496.7,377.5 L490.3,380.3 L481.2,379.4 L469.4,373.0 L460.3,368.5 L453.9,364.8 L453.9,362.1 Z" fill="none" stroke="#111" stroke-width="0.8" stroke-dasharray="1.1 0.9"/>
<path d="M442.2,353.3 L441.2,361.3 L444.0,367.7 L448.6,373.3 L456.0,380.6 L464.2,387.0 L469.8,392.6 L470.5,396.0 L467.0,402.6 L466.0,406.4 L462.7,416.3 L466.5,425.2 L463.2,430.0 L463.7,440.4" fill="none" stroke="#111" stroke-width="0.8" stroke-dasharray="1.1 0.9"/>
<path d="M473.2,413.4 L478.8,406.8 L482.6,407.3 L491.1,413.0 L493.9,416.2 L504.3,414.8 L506.2,417.2 L502.4,420.5 L496.7,424.2 L493.9,429.9 L488.3,437.4 L486.7,440.4 L475.2,440.4 L473.2,434.0 L472.2,425.0 L472.7,417.0 Z" fill="none" stroke="#111" stroke-width="0.8" stroke-dasharray="1.1 0.9"/>
<path d="M502.4,420.5 L506.2,417.2 L510.9,412.0 L517.2,405.2" fill="none" stroke="#111" stroke-width="0.8" stroke-dasharray="1.1 0.9"/>
<rect x="430.7" y="353.1" width="86.6" height="86.3" fill="none" stroke="#222" stroke-width="0.8"/>
<text x="435.8" y="431.8" font-size="10.5" font-weight="bold" fill="#fff">IG</text>
<rect x="524.6" y="353.7" width="8.1" height="85.5" fill="url(#cbar)" stroke="#777" stroke-width="0.6"/>
<line x1="532.7" y1="437.1" x2="534.2" y2="437.1" stroke="#555" stroke-width="0.5"/>
<text x="536.3" y="438.8" font-size="4.8" font-weight="bold" fill="#555">0</text>
<line x1="532.7" y1="424.3" x2="534.2" y2="424.3" stroke="#555" stroke-width="0.5"/>
<text x="536.3" y="426.0" font-size="4.8" font-weight="bold" fill="#555">10</text>
<line x1="532.7" y1="411.5" x2="534.2" y2="411.5" stroke="#555" stroke-width="0.5"/>
<text x="536.3" y="413.2" font-size="4.8" font-weight="bold" fill="#555">20</text>
<line x1="532.7" y1="398.6" x2="534.2" y2="398.6" stroke="#555" stroke-width="0.5"/>
<text x="536.3" y="400.3" font-size="4.8" font-weight="bold" fill="#555">30</text>
<line x1="532.7" y1="385.8" x2="534.2" y2="385.8" stroke="#555" stroke-width="0.5"/>
<text x="536.3" y="387.5" font-size="4.8" font-weight="bold" fill="#555">40</text>
<line x1="532.7" y1="373.0" x2="534.2" y2="373.0" stroke="#555" stroke-width="0.5"/>
<text x="536.3" y="374.7" font-size="4.8" font-weight="bold" fill="#555">50</text>
<line x1="532.7" y1="360.2" x2="534.2" y2="360.2" stroke="#555" stroke-width="0.5"/>
<text x="536.3" y="361.9" font-size="4.8" font-weight="bold" fill="#555">60</text>
</svg></body></html>
